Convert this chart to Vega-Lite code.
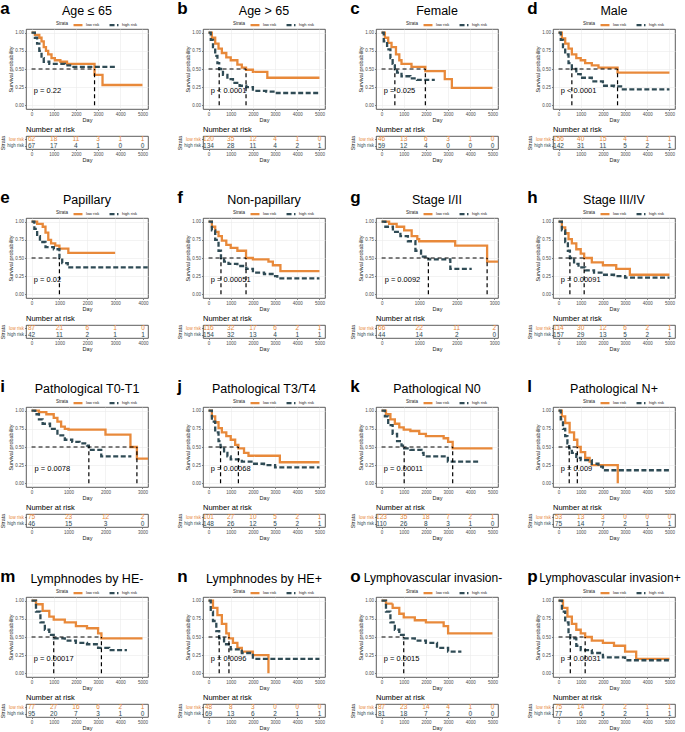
{
"$schema":"https://vega.github.io/schema/vega-lite/v6.json",
"padding":{"left":0,"top":0,"right":2,"bottom":0},
"background":"white",
"columns":4,
"spacing":{"row":26,"column":24},
"resolve":{"scale":{"color":"independent","strokeDash":"independent","x":"independent","y":"independent"},"legend":{"color":"independent","strokeDash":"independent"}},
"config":{
 "font":"Liberation Sans",
 "view":{"stroke":"#333333","strokeWidth":0.8},
 "axis":{"labelFontSize":4.5,"titleFontSize":5.5,"titleFontWeight":"normal","gridColor":"#ebebeb","gridWidth":0.6,"domain":false,"tickSize":1.5,"tickColor":"#333333","tickWidth":0.6,"labelColor":"#4d4d4d","titleColor":"#1a1a1a","labelPadding":1,"titlePadding":1},
 "legend":{"direction":"horizontal","titleOrient":"left","labelFontSize":4,"titleFontSize":4.5,"titleFontWeight":"normal","symbolType":"stroke","symbolStrokeWidth":3,"symbolSize":80,"columnPadding":4,"padding":0,"titlePadding":3,"labelOffset":2,"titleColor":"#1a1a1a","labelColor":"#1a1a1a"},
 "title":{"fontSize":12.5,"fontWeight":"normal","color":"#000000","offset":3},
 "line":{"strokeWidth":2.3}
},
"datasets":{
"pval":[
{"panel":"a","pvalue":"p = 0.22"},{"panel":"b","pvalue":"p < 0.0001"},{"panel":"c","pvalue":"p = 0.025"},{"panel":"d","pvalue":"p < 0.0001"},
{"panel":"e","pvalue":"p = 0.02"},{"panel":"f","pvalue":"p = 0.00051"},{"panel":"g","pvalue":"p = 0.0092"},{"panel":"h","pvalue":"p = 0.00091"},
{"panel":"i","pvalue":"p = 0.0078"},{"panel":"j","pvalue":"p = 0.00068"},{"panel":"k","pvalue":"p = 0.00011"},{"panel":"l","pvalue":"p = 0.009"},
{"panel":"m","pvalue":"p = 0.00017"},{"panel":"n","pvalue":"p = 0.0096"},{"panel":"o","pvalue":"p = 0.0015"},{"panel":"p","pvalue":"p = 0.00031"}
],
"med":[
{"panel":"a","day":0,"day2":2840,"surv":0.5,"surv2":0.5},{"panel":"a","day":2840,"day2":2840,"surv":0,"surv2":0.5},
{"panel":"b","day":0,"day2":1690,"surv":0.5,"surv2":0.5},{"panel":"b","day":480,"day2":480,"surv":0,"surv2":0.5},{"panel":"b","day":1690,"day2":1690,"surv":0,"surv2":0.5},
{"panel":"c","day":0,"day2":1975,"surv":0.5,"surv2":0.5},{"panel":"c","day":600,"day2":600,"surv":0,"surv2":0.5},{"panel":"c","day":1975,"day2":1975,"surv":0,"surv2":0.5},
{"panel":"d","day":0,"day2":2660,"surv":0.5,"surv2":0.5},{"panel":"d","day":600,"day2":600,"surv":0,"surv2":0.5},{"panel":"d","day":2660,"day2":2660,"surv":0,"surv2":0.5},
{"panel":"e","day":0,"day2":1000,"surv":0.5,"surv2":0.5},{"panel":"e","day":1000,"day2":1000,"surv":0,"surv2":0.5},
{"panel":"f","day":0,"day2":1690,"surv":0.5,"surv2":0.5},{"panel":"f","day":560,"day2":560,"surv":0,"surv2":0.5},{"panel":"f","day":1690,"day2":1690,"surv":0,"surv2":0.5},
{"panel":"g","day":0,"day2":2810,"surv":0.5,"surv2":0.5},{"panel":"g","day":1245,"day2":1245,"surv":0,"surv2":0.5},{"panel":"g","day":2810,"day2":2810,"surv":0,"surv2":0.5},
{"panel":"h","day":0,"day2":1155,"surv":0.5,"surv2":0.5},{"panel":"h","day":512,"day2":512,"surv":0,"surv2":0.5},{"panel":"h","day":1155,"day2":1155,"surv":0,"surv2":0.5},
{"panel":"i","day":0,"day2":2850,"surv":0.5,"surv2":0.5},{"panel":"i","day":1550,"day2":1550,"surv":0,"surv2":0.5},{"panel":"i","day":2850,"day2":2850,"surv":0,"surv2":0.5},
{"panel":"j","day":0,"day2":1345,"surv":0.5,"surv2":0.5},{"panel":"j","day":541,"day2":541,"surv":0,"surv2":0.5},{"panel":"j","day":1345,"day2":1345,"surv":0,"surv2":0.5},
{"panel":"k","day":0,"day2":3207,"surv":0.5,"surv2":0.5},{"panel":"k","day":1020,"day2":1020,"surv":0,"surv2":0.5},{"panel":"k","day":3207,"day2":3207,"surv":0,"surv2":0.5},
{"panel":"l","day":0,"day2":846,"surv":0.5,"surv2":0.5},{"panel":"l","day":481,"day2":481,"surv":0,"surv2":0.5},{"panel":"l","day":846,"day2":846,"surv":0,"surv2":0.5},
{"panel":"m","day":0,"day2":3150,"surv":0.5,"surv2":0.5},{"panel":"m","day":1000,"day2":1000,"surv":0,"surv2":0.5},{"panel":"m","day":3150,"day2":3150,"surv":0,"surv2":0.5},
{"panel":"n","day":0,"day2":920,"surv":0.5,"surv2":0.5},{"panel":"n","day":480,"day2":480,"surv":0,"surv2":0.5},{"panel":"n","day":920,"day2":920,"surv":0,"surv2":0.5},
{"panel":"o","day":0,"day2":1000,"surv":0.5,"surv2":0.5},{"panel":"o","day":1000,"day2":1000,"surv":0,"surv2":0.5},
{"panel":"p","day":0,"day2":1200,"surv":0.5,"surv2":0.5},{"panel":"p","day":530,"day2":530,"surv":0,"surv2":0.5},{"panel":"p","day":1200,"day2":1200,"surv":0,"surv2":0.5}
],
"risk":[
{"panel":"a","strata":"low risk","day":0,"n":62},{"panel":"a","strata":"low risk","day":1000,"n":18},{"panel":"a","strata":"low risk","day":2000,"n":11},{"panel":"a","strata":"low risk","day":3000,"n":3},{"panel":"a","strata":"low risk","day":4000,"n":1},{"panel":"a","strata":"low risk","day":5000,"n":1},
{"panel":"a","strata":"high risk","day":0,"n":67},{"panel":"a","strata":"high risk","day":1000,"n":17},{"panel":"a","strata":"high risk","day":2000,"n":4},{"panel":"a","strata":"high risk","day":3000,"n":1},{"panel":"a","strata":"high risk","day":4000,"n":0},{"panel":"a","strata":"high risk","day":5000,"n":0},
{"panel":"b","strata":"low risk","day":0,"n":120},{"panel":"b","strata":"low risk","day":1000,"n":35},{"panel":"b","strata":"low risk","day":2000,"n":12},{"panel":"b","strata":"low risk","day":3000,"n":4},{"panel":"b","strata":"low risk","day":4000,"n":1},{"panel":"b","strata":"low risk","day":5000,"n":0},
{"panel":"b","strata":"high risk","day":0,"n":134},{"panel":"b","strata":"high risk","day":1000,"n":28},{"panel":"b","strata":"high risk","day":2000,"n":11},{"panel":"b","strata":"high risk","day":3000,"n":4},{"panel":"b","strata":"high risk","day":4000,"n":2},{"panel":"b","strata":"high risk","day":5000,"n":1},
{"panel":"c","strata":"low risk","day":0,"n":46},{"panel":"c","strata":"low risk","day":1000,"n":13},{"panel":"c","strata":"low risk","day":2000,"n":6},{"panel":"c","strata":"low risk","day":3000,"n":3},{"panel":"c","strata":"low risk","day":4000,"n":1},{"panel":"c","strata":"low risk","day":5000,"n":0},
{"panel":"c","strata":"high risk","day":0,"n":59},{"panel":"c","strata":"high risk","day":1000,"n":12},{"panel":"c","strata":"high risk","day":2000,"n":4},{"panel":"c","strata":"high risk","day":3000,"n":0},{"panel":"c","strata":"high risk","day":4000,"n":0},{"panel":"c","strata":"high risk","day":5000,"n":0},
{"panel":"d","strata":"low risk","day":0,"n":156},{"panel":"d","strata":"low risk","day":1000,"n":40},{"panel":"d","strata":"low risk","day":2000,"n":15},{"panel":"d","strata":"low risk","day":3000,"n":4},{"panel":"d","strata":"low risk","day":4000,"n":1},{"panel":"d","strata":"low risk","day":5000,"n":1},
{"panel":"d","strata":"high risk","day":0,"n":142},{"panel":"d","strata":"high risk","day":1000,"n":31},{"panel":"d","strata":"high risk","day":2000,"n":11},{"panel":"d","strata":"high risk","day":3000,"n":5},{"panel":"d","strata":"high risk","day":4000,"n":2},{"panel":"d","strata":"high risk","day":5000,"n":1},
{"panel":"e","strata":"low risk","day":0,"n":87},{"panel":"e","strata":"low risk","day":1000,"n":21},{"panel":"e","strata":"low risk","day":2000,"n":6},{"panel":"e","strata":"low risk","day":3000,"n":1},{"panel":"e","strata":"low risk","day":4000,"n":0},
{"panel":"e","strata":"high risk","day":0,"n":42},{"panel":"e","strata":"high risk","day":1000,"n":11},{"panel":"e","strata":"high risk","day":2000,"n":2},{"panel":"e","strata":"high risk","day":3000,"n":1},{"panel":"e","strata":"high risk","day":4000,"n":1},
{"panel":"f","strata":"low risk","day":0,"n":116},{"panel":"f","strata":"low risk","day":1000,"n":32},{"panel":"f","strata":"low risk","day":2000,"n":17},{"panel":"f","strata":"low risk","day":3000,"n":6},{"panel":"f","strata":"low risk","day":4000,"n":2},{"panel":"f","strata":"low risk","day":5000,"n":1},
{"panel":"f","strata":"high risk","day":0,"n":154},{"panel":"f","strata":"high risk","day":1000,"n":32},{"panel":"f","strata":"high risk","day":2000,"n":13},{"panel":"f","strata":"high risk","day":3000,"n":4},{"panel":"f","strata":"high risk","day":4000,"n":1},{"panel":"f","strata":"high risk","day":5000,"n":1},
{"panel":"g","strata":"low risk","day":0,"n":66},{"panel":"g","strata":"low risk","day":1000,"n":22},{"panel":"g","strata":"low risk","day":2000,"n":11},{"panel":"g","strata":"low risk","day":3000,"n":2},
{"panel":"g","strata":"high risk","day":0,"n":44},{"panel":"g","strata":"high risk","day":1000,"n":14},{"panel":"g","strata":"high risk","day":2000,"n":2},{"panel":"g","strata":"high risk","day":3000,"n":0},
{"panel":"h","strata":"low risk","day":0,"n":114},{"panel":"h","strata":"low risk","day":1000,"n":30},{"panel":"h","strata":"low risk","day":2000,"n":12},{"panel":"h","strata":"low risk","day":3000,"n":6},{"panel":"h","strata":"low risk","day":4000,"n":2},{"panel":"h","strata":"low risk","day":5000,"n":1},
{"panel":"h","strata":"high risk","day":0,"n":157},{"panel":"h","strata":"high risk","day":1000,"n":29},{"panel":"h","strata":"high risk","day":2000,"n":13},{"panel":"h","strata":"high risk","day":3000,"n":5},{"panel":"h","strata":"high risk","day":4000,"n":2},{"panel":"h","strata":"high risk","day":5000,"n":1},
{"panel":"i","strata":"low risk","day":0,"n":75},{"panel":"i","strata":"low risk","day":1000,"n":23},{"panel":"i","strata":"low risk","day":2000,"n":12},{"panel":"i","strata":"low risk","day":3000,"n":2},
{"panel":"i","strata":"high risk","day":0,"n":46},{"panel":"i","strata":"high risk","day":1000,"n":15},{"panel":"i","strata":"high risk","day":2000,"n":3},{"panel":"i","strata":"high risk","day":3000,"n":0},
{"panel":"j","strata":"low risk","day":0,"n":101},{"panel":"j","strata":"low risk","day":1000,"n":27},{"panel":"j","strata":"low risk","day":2000,"n":10},{"panel":"j","strata":"low risk","day":3000,"n":5},{"panel":"j","strata":"low risk","day":4000,"n":2},{"panel":"j","strata":"low risk","day":5000,"n":1},
{"panel":"j","strata":"high risk","day":0,"n":148},{"panel":"j","strata":"high risk","day":1000,"n":26},{"panel":"j","strata":"high risk","day":2000,"n":12},{"panel":"j","strata":"high risk","day":3000,"n":5},{"panel":"j","strata":"high risk","day":4000,"n":2},{"panel":"j","strata":"high risk","day":5000,"n":1},
{"panel":"k","strata":"low risk","day":0,"n":123},{"panel":"k","strata":"low risk","day":1000,"n":35},{"panel":"k","strata":"low risk","day":2000,"n":18},{"panel":"k","strata":"low risk","day":3000,"n":7},{"panel":"k","strata":"low risk","day":4000,"n":2},{"panel":"k","strata":"low risk","day":5000,"n":1},
{"panel":"k","strata":"high risk","day":0,"n":110},{"panel":"k","strata":"high risk","day":1000,"n":26},{"panel":"k","strata":"high risk","day":2000,"n":8},{"panel":"k","strata":"high risk","day":3000,"n":3},{"panel":"k","strata":"high risk","day":4000,"n":1},{"panel":"k","strata":"high risk","day":5000,"n":0},
{"panel":"l","strata":"low risk","day":0,"n":53},{"panel":"l","strata":"low risk","day":1000,"n":13},{"panel":"l","strata":"low risk","day":2000,"n":3},{"panel":"l","strata":"low risk","day":3000,"n":0},{"panel":"l","strata":"low risk","day":4000,"n":0},{"panel":"l","strata":"low risk","day":5000,"n":0},
{"panel":"l","strata":"high risk","day":0,"n":75},{"panel":"l","strata":"high risk","day":1000,"n":14},{"panel":"l","strata":"high risk","day":2000,"n":7},{"panel":"l","strata":"high risk","day":3000,"n":2},{"panel":"l","strata":"high risk","day":4000,"n":1},{"panel":"l","strata":"high risk","day":5000,"n":1},
{"panel":"m","strata":"low risk","day":0,"n":77},{"panel":"m","strata":"low risk","day":1000,"n":27},{"panel":"m","strata":"low risk","day":2000,"n":16},{"panel":"m","strata":"low risk","day":3000,"n":6},{"panel":"m","strata":"low risk","day":4000,"n":2},{"panel":"m","strata":"low risk","day":5000,"n":1},
{"panel":"m","strata":"high risk","day":0,"n":95},{"panel":"m","strata":"high risk","day":1000,"n":20},{"panel":"m","strata":"high risk","day":2000,"n":7},{"panel":"m","strata":"high risk","day":3000,"n":3},{"panel":"m","strata":"high risk","day":4000,"n":1},{"panel":"m","strata":"high risk","day":5000,"n":0},
{"panel":"n","strata":"low risk","day":0,"n":48},{"panel":"n","strata":"low risk","day":1000,"n":8},{"panel":"n","strata":"low risk","day":2000,"n":3},{"panel":"n","strata":"low risk","day":3000,"n":0},{"panel":"n","strata":"low risk","day":4000,"n":0},{"panel":"n","strata":"low risk","day":5000,"n":0},
{"panel":"n","strata":"high risk","day":0,"n":69},{"panel":"n","strata":"high risk","day":1000,"n":13},{"panel":"n","strata":"high risk","day":2000,"n":6},{"panel":"n","strata":"high risk","day":3000,"n":2},{"panel":"n","strata":"high risk","day":4000,"n":1},{"panel":"n","strata":"high risk","day":5000,"n":1},
{"panel":"o","strata":"low risk","day":0,"n":87},{"panel":"o","strata":"low risk","day":1000,"n":23},{"panel":"o","strata":"low risk","day":2000,"n":14},{"panel":"o","strata":"low risk","day":3000,"n":4},{"panel":"o","strata":"low risk","day":4000,"n":1},{"panel":"o","strata":"low risk","day":5000,"n":0},
{"panel":"o","strata":"high risk","day":0,"n":81},{"panel":"o","strata":"high risk","day":1000,"n":18},{"panel":"o","strata":"high risk","day":2000,"n":7},{"panel":"o","strata":"high risk","day":3000,"n":2},{"panel":"o","strata":"high risk","day":4000,"n":0},{"panel":"o","strata":"high risk","day":5000,"n":0},
{"panel":"p","strata":"low risk","day":0,"n":75},{"panel":"p","strata":"low risk","day":1000,"n":14},{"panel":"p","strata":"low risk","day":2000,"n":7},{"panel":"p","strata":"low risk","day":3000,"n":2},{"panel":"p","strata":"low risk","day":4000,"n":1},{"panel":"p","strata":"low risk","day":5000,"n":1},
{"panel":"p","strata":"high risk","day":0,"n":77},{"panel":"p","strata":"high risk","day":1000,"n":6},{"panel":"p","strata":"high risk","day":2000,"n":5},{"panel":"p","strata":"high risk","day":3000,"n":2},{"panel":"p","strata":"high risk","day":4000,"n":1},{"panel":"p","strata":"high risk","day":5000,"n":1}
],
"km":[
{"panel":"a","strata":"low risk","day":0,"surv":1},{"panel":"a","strata":"low risk","day":150,"surv":0.97},{"panel":"a","strata":"low risk","day":350,"surv":0.93},{"panel":"a","strata":"low risk","day":450,"surv":0.88},{"panel":"a","strata":"low risk","day":550,"surv":0.8},{"panel":"a","strata":"low risk","day":650,"surv":0.75},{"panel":"a","strata":"low risk","day":750,"surv":0.7},{"panel":"a","strata":"low risk","day":900,"surv":0.65},{"panel":"a","strata":"low risk","day":1050,"surv":0.62},{"panel":"a","strata":"low risk","day":1300,"surv":0.6},{"panel":"a","strata":"low risk","day":1600,"surv":0.57},{"panel":"a","strata":"low risk","day":2840,"surv":0.42},{"panel":"a","strata":"low risk","day":3200,"surv":0.28},{"panel":"a","strata":"low risk","day":5000,"surv":0.28},
{"panel":"a","strata":"high risk","day":0,"surv":1},{"panel":"a","strata":"high risk","day":150,"surv":0.93},{"panel":"a","strata":"high risk","day":250,"surv":0.85},{"panel":"a","strata":"high risk","day":350,"surv":0.75},{"panel":"a","strata":"high risk","day":450,"surv":0.65},{"panel":"a","strata":"high risk","day":550,"surv":0.6},{"panel":"a","strata":"high risk","day":800,"surv":0.57},{"panel":"a","strata":"high risk","day":1500,"surv":0.55},{"panel":"a","strata":"high risk","day":1800,"surv":0.53},{"panel":"a","strata":"high risk","day":3850,"surv":0.53},
{"panel":"b","strata":"low risk","day":0,"surv":1},{"panel":"b","strata":"low risk","day":150,"surv":0.93},{"panel":"b","strata":"low risk","day":300,"surv":0.85},{"panel":"b","strata":"low risk","day":450,"surv":0.78},{"panel":"b","strata":"low risk","day":600,"surv":0.72},{"panel":"b","strata":"low risk","day":800,"surv":0.66},{"panel":"b","strata":"low risk","day":1000,"surv":0.62},{"panel":"b","strata":"low risk","day":1300,"surv":0.56},{"panel":"b","strata":"low risk","day":1500,"surv":0.52},{"panel":"b","strata":"low risk","day":1690,"surv":0.49},{"panel":"b","strata":"low risk","day":2000,"surv":0.46},{"panel":"b","strata":"low risk","day":2650,"surv":0.38},{"panel":"b","strata":"low risk","day":5000,"surv":0.38},
{"panel":"b","strata":"high risk","day":0,"surv":1},{"panel":"b","strata":"high risk","day":100,"surv":0.9},{"panel":"b","strata":"high risk","day":200,"surv":0.8},{"panel":"b","strata":"high risk","day":300,"surv":0.68},{"panel":"b","strata":"high risk","day":400,"surv":0.58},{"panel":"b","strata":"high risk","day":480,"surv":0.5},{"panel":"b","strata":"high risk","day":650,"surv":0.42},{"panel":"b","strata":"high risk","day":850,"surv":0.36},{"panel":"b","strata":"high risk","day":1100,"surv":0.31},{"panel":"b","strata":"high risk","day":1400,"surv":0.27},{"panel":"b","strata":"high risk","day":1700,"surv":0.25},{"panel":"b","strata":"high risk","day":2000,"surv":0.2},{"panel":"b","strata":"high risk","day":2600,"surv":0.19},{"panel":"b","strata":"high risk","day":3000,"surv":0.17},{"panel":"b","strata":"high risk","day":5000,"surv":0.17},
{"panel":"c","strata":"low risk","day":0,"surv":1},{"panel":"c","strata":"low risk","day":150,"surv":0.93},{"panel":"c","strata":"low risk","day":300,"surv":0.86},{"panel":"c","strata":"low risk","day":450,"surv":0.8},{"panel":"c","strata":"low risk","day":650,"surv":0.7},{"panel":"c","strata":"low risk","day":800,"surv":0.62},{"panel":"c","strata":"low risk","day":900,"surv":0.57},{"panel":"c","strata":"low risk","day":1350,"surv":0.53},{"panel":"c","strata":"low risk","day":1975,"surv":0.47},{"panel":"c","strata":"low risk","day":2850,"surv":0.36},{"panel":"c","strata":"low risk","day":3170,"surv":0.24},{"panel":"c","strata":"low risk","day":5000,"surv":0.24},
{"panel":"c","strata":"high risk","day":0,"surv":1},{"panel":"c","strata":"high risk","day":100,"surv":0.88},{"panel":"c","strata":"high risk","day":250,"surv":0.77},{"panel":"c","strata":"high risk","day":400,"surv":0.65},{"panel":"c","strata":"high risk","day":500,"surv":0.57},{"panel":"c","strata":"high risk","day":600,"surv":0.5},{"panel":"c","strata":"high risk","day":700,"surv":0.45},{"panel":"c","strata":"high risk","day":900,"surv":0.4},{"panel":"c","strata":"high risk","day":1300,"surv":0.37},{"panel":"c","strata":"high risk","day":1600,"surv":0.35},{"panel":"c","strata":"high risk","day":2400,"surv":0.35},
{"panel":"d","strata":"low risk","day":0,"surv":1},{"panel":"d","strata":"low risk","day":150,"surv":0.92},{"panel":"d","strata":"low risk","day":300,"surv":0.85},{"panel":"d","strata":"low risk","day":450,"surv":0.78},{"panel":"d","strata":"low risk","day":600,"surv":0.7},{"panel":"d","strata":"low risk","day":800,"surv":0.65},{"panel":"d","strata":"low risk","day":1000,"surv":0.62},{"panel":"d","strata":"low risk","day":1200,"surv":0.58},{"panel":"d","strata":"low risk","day":1500,"surv":0.55},{"panel":"d","strata":"low risk","day":1800,"surv":0.52},{"panel":"d","strata":"low risk","day":2660,"surv":0.45},{"panel":"d","strata":"low risk","day":5000,"surv":0.45},
{"panel":"d","strata":"high risk","day":0,"surv":1},{"panel":"d","strata":"high risk","day":100,"surv":0.9},{"panel":"d","strata":"high risk","day":200,"surv":0.8},{"panel":"d","strata":"high risk","day":300,"surv":0.7},{"panel":"d","strata":"high risk","day":450,"surv":0.58},{"panel":"d","strata":"high risk","day":600,"surv":0.5},{"panel":"d","strata":"high risk","day":800,"surv":0.43},{"panel":"d","strata":"high risk","day":1000,"surv":0.38},{"panel":"d","strata":"high risk","day":1500,"surv":0.33},{"panel":"d","strata":"high risk","day":2000,"surv":0.27},{"panel":"d","strata":"high risk","day":2500,"surv":0.26},{"panel":"d","strata":"high risk","day":2900,"surv":0.22},{"panel":"d","strata":"high risk","day":5000,"surv":0.22},
{"panel":"e","strata":"low risk","day":0,"surv":1},{"panel":"e","strata":"low risk","day":200,"surv":0.97},{"panel":"e","strata":"low risk","day":400,"surv":0.93},{"panel":"e","strata":"low risk","day":500,"surv":0.85},{"panel":"e","strata":"low risk","day":600,"surv":0.75},{"panel":"e","strata":"low risk","day":700,"surv":0.7},{"panel":"e","strata":"low risk","day":850,"surv":0.67},{"panel":"e","strata":"low risk","day":1000,"surv":0.63},{"panel":"e","strata":"low risk","day":1320,"surv":0.57},{"panel":"e","strata":"low risk","day":3000,"surv":0.57},
{"panel":"e","strata":"high risk","day":0,"surv":1},{"panel":"e","strata":"high risk","day":100,"surv":0.9},{"panel":"e","strata":"high risk","day":200,"surv":0.8},{"panel":"e","strata":"high risk","day":300,"surv":0.72},{"panel":"e","strata":"high risk","day":500,"surv":0.65},{"panel":"e","strata":"high risk","day":800,"surv":0.62},{"panel":"e","strata":"high risk","day":1000,"surv":0.5},{"panel":"e","strata":"high risk","day":1100,"surv":0.43},{"panel":"e","strata":"high risk","day":1300,"surv":0.37},{"panel":"e","strata":"high risk","day":4170,"surv":0.37},
{"panel":"f","strata":"low risk","day":0,"surv":1},{"panel":"f","strata":"low risk","day":150,"surv":0.93},{"panel":"f","strata":"low risk","day":300,"surv":0.86},{"panel":"f","strata":"low risk","day":450,"surv":0.8},{"panel":"f","strata":"low risk","day":600,"surv":0.74},{"panel":"f","strata":"low risk","day":800,"surv":0.68},{"panel":"f","strata":"low risk","day":1000,"surv":0.64},{"panel":"f","strata":"low risk","day":1300,"surv":0.6},{"panel":"f","strata":"low risk","day":1690,"surv":0.5},{"panel":"f","strata":"low risk","day":2000,"surv":0.48},{"panel":"f","strata":"low risk","day":2700,"surv":0.45},{"panel":"f","strata":"low risk","day":2900,"surv":0.4},{"panel":"f","strata":"low risk","day":3240,"surv":0.32},{"panel":"f","strata":"low risk","day":5000,"surv":0.32},
{"panel":"f","strata":"high risk","day":0,"surv":1},{"panel":"f","strata":"high risk","day":150,"surv":0.88},{"panel":"f","strata":"high risk","day":300,"surv":0.75},{"panel":"f","strata":"high risk","day":450,"surv":0.6},{"panel":"f","strata":"high risk","day":560,"surv":0.5},{"panel":"f","strata":"high risk","day":700,"surv":0.45},{"panel":"f","strata":"high risk","day":900,"surv":0.42},{"panel":"f","strata":"high risk","day":1300,"surv":0.39},{"panel":"f","strata":"high risk","day":1700,"surv":0.35},{"panel":"f","strata":"high risk","day":2000,"surv":0.3},{"panel":"f","strata":"high risk","day":2500,"surv":0.28},{"panel":"f","strata":"high risk","day":3000,"surv":0.25},{"panel":"f","strata":"high risk","day":3100,"surv":0.22},{"panel":"f","strata":"high risk","day":5000,"surv":0.22},
{"panel":"g","strata":"low risk","day":0,"surv":1},{"panel":"g","strata":"low risk","day":200,"surv":0.97},{"panel":"g","strata":"low risk","day":400,"surv":0.93},{"panel":"g","strata":"low risk","day":600,"surv":0.88},{"panel":"g","strata":"low risk","day":800,"surv":0.8},{"panel":"g","strata":"low risk","day":950,"surv":0.76},{"panel":"g","strata":"low risk","day":1000,"surv":0.73},{"panel":"g","strata":"low risk","day":1960,"surv":0.67},{"panel":"g","strata":"low risk","day":2810,"surv":0.45},{"panel":"g","strata":"low risk","day":3100,"surv":0.45},
{"panel":"g","strata":"high risk","day":0,"surv":1},{"panel":"g","strata":"high risk","day":100,"surv":0.93},{"panel":"g","strata":"high risk","day":300,"surv":0.86},{"panel":"g","strata":"high risk","day":500,"surv":0.8},{"panel":"g","strata":"high risk","day":700,"surv":0.73},{"panel":"g","strata":"high risk","day":900,"surv":0.6},{"panel":"g","strata":"high risk","day":1050,"surv":0.52},{"panel":"g","strata":"high risk","day":1245,"surv":0.48},{"panel":"g","strata":"high risk","day":1830,"surv":0.35},{"panel":"g","strata":"high risk","day":2400,"surv":0.35},
{"panel":"h","strata":"low risk","day":0,"surv":1},{"panel":"h","strata":"low risk","day":150,"surv":0.92},{"panel":"h","strata":"low risk","day":300,"surv":0.84},{"panel":"h","strata":"low risk","day":450,"surv":0.76},{"panel":"h","strata":"low risk","day":600,"surv":0.7},{"panel":"h","strata":"low risk","day":800,"surv":0.62},{"panel":"h","strata":"low risk","day":1000,"surv":0.56},{"panel":"h","strata":"low risk","day":1155,"surv":0.5},{"panel":"h","strata":"low risk","day":1500,"surv":0.44},{"panel":"h","strata":"low risk","day":2000,"surv":0.4},{"panel":"h","strata":"low risk","day":2600,"surv":0.35},{"panel":"h","strata":"low risk","day":3215,"surv":0.27},{"panel":"h","strata":"low risk","day":5000,"surv":0.27},
{"panel":"h","strata":"high risk","day":0,"surv":1},{"panel":"h","strata":"high risk","day":150,"surv":0.88},{"panel":"h","strata":"high risk","day":300,"surv":0.72},{"panel":"h","strata":"high risk","day":420,"surv":0.6},{"panel":"h","strata":"high risk","day":512,"surv":0.5},{"panel":"h","strata":"high risk","day":700,"surv":0.42},{"panel":"h","strata":"high risk","day":900,"surv":0.37},{"panel":"h","strata":"high risk","day":1200,"surv":0.33},{"panel":"h","strata":"high risk","day":1600,"surv":0.3},{"panel":"h","strata":"high risk","day":2000,"surv":0.27},{"panel":"h","strata":"high risk","day":2500,"surv":0.25},{"panel":"h","strata":"high risk","day":3000,"surv":0.23},{"panel":"h","strata":"high risk","day":5000,"surv":0.23},
{"panel":"i","strata":"low risk","day":0,"surv":1},{"panel":"i","strata":"low risk","day":200,"surv":0.98},{"panel":"i","strata":"low risk","day":400,"surv":0.95},{"panel":"i","strata":"low risk","day":600,"surv":0.9},{"panel":"i","strata":"low risk","day":700,"surv":0.85},{"panel":"i","strata":"low risk","day":800,"surv":0.78},{"panel":"i","strata":"low risk","day":900,"surv":0.75},{"panel":"i","strata":"low risk","day":1000,"surv":0.74},{"panel":"i","strata":"low risk","day":2000,"surv":0.67},{"panel":"i","strata":"low risk","day":2675,"surv":0.5},{"panel":"i","strata":"low risk","day":2850,"surv":0.34},{"panel":"i","strata":"low risk","day":3150,"surv":0.34},
{"panel":"i","strata":"high risk","day":0,"surv":1},{"panel":"i","strata":"high risk","day":100,"surv":0.95},{"panel":"i","strata":"high risk","day":200,"surv":0.88},{"panel":"i","strata":"high risk","day":300,"surv":0.82},{"panel":"i","strata":"high risk","day":500,"surv":0.75},{"panel":"i","strata":"high risk","day":700,"surv":0.66},{"panel":"i","strata":"high risk","day":900,"surv":0.6},{"panel":"i","strata":"high risk","day":1100,"surv":0.57},{"panel":"i","strata":"high risk","day":1300,"surv":0.55},{"panel":"i","strata":"high risk","day":1500,"surv":0.52},{"panel":"i","strata":"high risk","day":1550,"surv":0.46},{"panel":"i","strata":"high risk","day":1885,"surv":0.37},{"panel":"i","strata":"high risk","day":2700,"surv":0.37},
{"panel":"j","strata":"low risk","day":0,"surv":1},{"panel":"j","strata":"low risk","day":150,"surv":0.92},{"panel":"j","strata":"low risk","day":300,"surv":0.84},{"panel":"j","strata":"low risk","day":450,"surv":0.76},{"panel":"j","strata":"low risk","day":600,"surv":0.7},{"panel":"j","strata":"low risk","day":800,"surv":0.65},{"panel":"j","strata":"low risk","day":1000,"surv":0.6},{"panel":"j","strata":"low risk","day":1200,"surv":0.53},{"panel":"j","strata":"low risk","day":1345,"surv":0.48},{"panel":"j","strata":"low risk","day":1600,"surv":0.42},{"panel":"j","strata":"low risk","day":1800,"surv":0.38},{"panel":"j","strata":"low risk","day":3215,"surv":0.29},{"panel":"j","strata":"low risk","day":5000,"surv":0.29},
{"panel":"j","strata":"high risk","day":0,"surv":1},{"panel":"j","strata":"high risk","day":150,"surv":0.85},{"panel":"j","strata":"high risk","day":300,"surv":0.7},{"panel":"j","strata":"high risk","day":450,"surv":0.58},{"panel":"j","strata":"high risk","day":541,"surv":0.5},{"panel":"j","strata":"high risk","day":700,"surv":0.42},{"panel":"j","strata":"high risk","day":850,"surv":0.37},{"panel":"j","strata":"high risk","day":1000,"surv":0.33},{"panel":"j","strata":"high risk","day":1500,"surv":0.3},{"panel":"j","strata":"high risk","day":2000,"surv":0.27},{"panel":"j","strata":"high risk","day":2500,"surv":0.25},{"panel":"j","strata":"high risk","day":3000,"surv":0.22},{"panel":"j","strata":"high risk","day":5000,"surv":0.22},
{"panel":"k","strata":"low risk","day":0,"surv":1},{"panel":"k","strata":"low risk","day":200,"surv":0.95},{"panel":"k","strata":"low risk","day":400,"surv":0.88},{"panel":"k","strata":"low risk","day":600,"surv":0.82},{"panel":"k","strata":"low risk","day":800,"surv":0.77},{"panel":"k","strata":"low risk","day":1000,"surv":0.74},{"panel":"k","strata":"low risk","day":1300,"surv":0.72},{"panel":"k","strata":"low risk","day":1700,"surv":0.68},{"panel":"k","strata":"low risk","day":2000,"surv":0.65},{"panel":"k","strata":"low risk","day":2800,"surv":0.62},{"panel":"k","strata":"low risk","day":3000,"surv":0.57},{"panel":"k","strata":"low risk","day":3207,"surv":0.48},{"panel":"k","strata":"low risk","day":5000,"surv":0.48},
{"panel":"k","strata":"high risk","day":0,"surv":1},{"panel":"k","strata":"high risk","day":150,"surv":0.92},{"panel":"k","strata":"high risk","day":300,"surv":0.8},{"panel":"k","strata":"high risk","day":500,"surv":0.68},{"panel":"k","strata":"high risk","day":700,"surv":0.58},{"panel":"k","strata":"high risk","day":900,"surv":0.52},{"panel":"k","strata":"high risk","day":1020,"surv":0.48},{"panel":"k","strata":"high risk","day":1300,"surv":0.46},{"panel":"k","strata":"high risk","day":1800,"surv":0.42},{"panel":"k","strata":"high risk","day":1895,"surv":0.37},{"panel":"k","strata":"high risk","day":2990,"surv":0.3},{"panel":"k","strata":"high risk","day":4370,"surv":0.3},
{"panel":"l","strata":"low risk","day":0,"surv":1},{"panel":"l","strata":"low risk","day":150,"surv":0.92},{"panel":"l","strata":"low risk","day":300,"surv":0.83},{"panel":"l","strata":"low risk","day":500,"surv":0.7},{"panel":"l","strata":"low risk","day":700,"surv":0.6},{"panel":"l","strata":"low risk","day":846,"surv":0.5},{"panel":"l","strata":"low risk","day":1000,"surv":0.43},{"panel":"l","strata":"low risk","day":1200,"surv":0.35},{"panel":"l","strata":"low risk","day":1400,"surv":0.3},{"panel":"l","strata":"low risk","day":1500,"surv":0.25},{"panel":"l","strata":"low risk","day":2670,"surv":0},
{"panel":"l","strata":"high risk","day":0,"surv":1},{"panel":"l","strata":"high risk","day":100,"surv":0.88},{"panel":"l","strata":"high risk","day":200,"surv":0.75},{"panel":"l","strata":"high risk","day":300,"surv":0.65},{"panel":"l","strata":"high risk","day":400,"surv":0.55},{"panel":"l","strata":"high risk","day":481,"surv":0.48},{"panel":"l","strata":"high risk","day":600,"surv":0.42},{"panel":"l","strata":"high risk","day":800,"surv":0.35},{"panel":"l","strata":"high risk","day":1000,"surv":0.32},{"panel":"l","strata":"high risk","day":1500,"surv":0.27},{"panel":"l","strata":"high risk","day":1800,"surv":0.23},{"panel":"l","strata":"high risk","day":2000,"surv":0.18},{"panel":"l","strata":"high risk","day":5000,"surv":0.18},
{"panel":"m","strata":"low risk","day":0,"surv":1},{"panel":"m","strata":"low risk","day":200,"surv":0.95},{"panel":"m","strata":"low risk","day":500,"surv":0.86},{"panel":"m","strata":"low risk","day":800,"surv":0.78},{"panel":"m","strata":"low risk","day":1000,"surv":0.74},{"panel":"m","strata":"low risk","day":1500,"surv":0.7},{"panel":"m","strata":"low risk","day":2000,"surv":0.65},{"panel":"m","strata":"low risk","day":2500,"surv":0.62},{"panel":"m","strata":"low risk","day":3000,"surv":0.55},{"panel":"m","strata":"low risk","day":3150,"surv":0.48},{"panel":"m","strata":"low risk","day":5000,"surv":0.48},
{"panel":"m","strata":"high risk","day":0,"surv":1},{"panel":"m","strata":"high risk","day":200,"surv":0.85},{"panel":"m","strata":"high risk","day":400,"surv":0.7},{"panel":"m","strata":"high risk","day":600,"surv":0.6},{"panel":"m","strata":"high risk","day":800,"surv":0.53},{"panel":"m","strata":"high risk","day":1000,"surv":0.48},{"panel":"m","strata":"high risk","day":1500,"surv":0.45},{"panel":"m","strata":"high risk","day":2000,"surv":0.42},{"panel":"m","strata":"high risk","day":2500,"surv":0.4},{"panel":"m","strata":"high risk","day":3000,"surv":0.35},{"panel":"m","strata":"high risk","day":3500,"surv":0.32},{"panel":"m","strata":"high risk","day":4300,"surv":0.32},
{"panel":"n","strata":"low risk","day":0,"surv":1},{"panel":"n","strata":"low risk","day":200,"surv":0.9},{"panel":"n","strata":"low risk","day":400,"surv":0.8},{"panel":"n","strata":"low risk","day":600,"surv":0.68},{"panel":"n","strata":"low risk","day":800,"surv":0.55},{"panel":"n","strata":"low risk","day":920,"surv":0.48},{"panel":"n","strata":"low risk","day":1100,"surv":0.42},{"panel":"n","strata":"low risk","day":1300,"surv":0.35},{"panel":"n","strata":"low risk","day":1500,"surv":0.3},{"panel":"n","strata":"low risk","day":2000,"surv":0.25},{"panel":"n","strata":"low risk","day":2700,"surv":0},
{"panel":"n","strata":"high risk","day":0,"surv":1},{"panel":"n","strata":"high risk","day":100,"surv":0.85},{"panel":"n","strata":"high risk","day":200,"surv":0.72},{"panel":"n","strata":"high risk","day":350,"surv":0.58},{"panel":"n","strata":"high risk","day":480,"surv":0.48},{"panel":"n","strata":"high risk","day":700,"surv":0.4},{"panel":"n","strata":"high risk","day":1000,"surv":0.33},{"panel":"n","strata":"high risk","day":1500,"surv":0.28},{"panel":"n","strata":"high risk","day":2000,"surv":0.2},{"panel":"n","strata":"high risk","day":5000,"surv":0.2},
{"panel":"o","strata":"low risk","day":0,"surv":1},{"panel":"o","strata":"low risk","day":200,"surv":0.96},{"panel":"o","strata":"low risk","day":500,"surv":0.9},{"panel":"o","strata":"low risk","day":800,"surv":0.82},{"panel":"o","strata":"low risk","day":1000,"surv":0.77},{"panel":"o","strata":"low risk","day":1500,"surv":0.73},{"panel":"o","strata":"low risk","day":2000,"surv":0.7},{"panel":"o","strata":"low risk","day":2800,"surv":0.65},{"panel":"o","strata":"low risk","day":3000,"surv":0.55},{"panel":"o","strata":"low risk","day":5000,"surv":0.55},
{"panel":"o","strata":"high risk","day":0,"surv":1},{"panel":"o","strata":"high risk","day":200,"surv":0.85},{"panel":"o","strata":"high risk","day":400,"surv":0.7},{"panel":"o","strata":"high risk","day":600,"surv":0.6},{"panel":"o","strata":"high risk","day":800,"surv":0.53},{"panel":"o","strata":"high risk","day":1000,"surv":0.48},{"panel":"o","strata":"high risk","day":1500,"surv":0.45},{"panel":"o","strata":"high risk","day":2000,"surv":0.42},{"panel":"o","strata":"high risk","day":2500,"surv":0.35},{"panel":"o","strata":"high risk","day":3000,"surv":0.3},{"panel":"o","strata":"high risk","day":3600,"surv":0.3},
{"panel":"p","strata":"low risk","day":0,"surv":1},{"panel":"p","strata":"low risk","day":200,"surv":0.9},{"panel":"p","strata":"low risk","day":400,"surv":0.78},{"panel":"p","strata":"low risk","day":600,"surv":0.68},{"panel":"p","strata":"low risk","day":800,"surv":0.6},{"panel":"p","strata":"low risk","day":1000,"surv":0.55},{"panel":"p","strata":"low risk","day":1200,"surv":0.5},{"panel":"p","strata":"low risk","day":1500,"surv":0.45},{"panel":"p","strata":"low risk","day":2000,"surv":0.42},{"panel":"p","strata":"low risk","day":2500,"surv":0.38},{"panel":"p","strata":"low risk","day":3000,"surv":0.3},{"panel":"p","strata":"low risk","day":3500,"surv":0.2},{"panel":"p","strata":"low risk","day":5000,"surv":0.2},
{"panel":"p","strata":"high risk","day":0,"surv":1},{"panel":"p","strata":"high risk","day":150,"surv":0.85},{"panel":"p","strata":"high risk","day":300,"surv":0.7},{"panel":"p","strata":"high risk","day":450,"surv":0.55},{"panel":"p","strata":"high risk","day":530,"surv":0.48},{"panel":"p","strata":"high risk","day":800,"surv":0.38},{"panel":"p","strata":"high risk","day":1000,"surv":0.32},{"panel":"p","strata":"high risk","day":1500,"surv":0.28},{"panel":"p","strata":"high risk","day":2000,"surv":0.22},{"panel":"p","strata":"high risk","day":3000,"surv":0.18},{"panel":"p","strata":"high risk","day":5000,"surv":0.18}
]
},
"concat":[
{"title":{"text":"a","anchor":"start","frame":"bounds","fontSize":17,"fontWeight":"bold","dy":14,"offset":0},"spacing":2,"resolve":{"scale":{"color":"independent","strokeDash":"independent","x":"independent"},"legend":{"color":"independent","strokeDash":"independent"}},
 "vconcat":[
 {"title":{"text":"Age ≤ 65","offset":2},"width":122,"height":80,
  "layer":[
   {"data":{"name":"km"},"transform":[{"filter":"datum.panel=='a'"}],"mark":{"type":"line","interpolate":"step-after"},"encoding":{"x":{"field":"day","type":"quantitative","scale":{"domain":[-250,5250],"nice":false,"zero":false},"axis":{"values":[0,1000,2000,3000,4000,5000],"format":"d","title":"Day"}},"y":{"field":"surv","type":"quantitative","scale":{"domain":[-0.05,1.05],"nice":false},"axis":{"values":[0,0.25,0.5,0.75,1],"format":".2f","title":"Survival probability"}},"color":{"field":"strata","type":"nominal","title":"Strata","legend":{"orient":"none","legendX":30,"legendY":-10},"scale":{"domain":["low risk","high risk"],"range":["#E8893A","#2F4B55"]}},"strokeDash":{"field":"strata","type":"nominal","title":"Strata","legend":{"orient":"none","legendX":30,"legendY":-10},"scale":{"domain":["low risk","high risk"],"range":[[1,0],[5,2.5]]}}}},
   {"data":{"name":"med"},"transform":[{"filter":"datum.panel=='a'"}],"mark":{"type":"rule","color":"#000000","strokeDash":[4,3],"strokeWidth":1.2},"encoding":{"x":{"field":"day","type":"quantitative","scale":{"domain":[-250,5250],"nice":false,"zero":false},"axis":{"values":[0,1000,2000,3000,4000,5000],"format":"d","title":"Day"}},"x2":{"field":"day2"},"y":{"field":"surv","type":"quantitative","scale":{"domain":[-0.05,1.05],"nice":false},"axis":{"values":[0,0.25,0.5,0.75,1],"format":".2f","title":"Survival probability"}},"y2":{"field":"surv2"}}},
   {"data":{"name":"pval"},"transform":[{"filter":"datum.panel=='a'"}],"mark":{"type":"text","align":"left","fontSize":7.5,"color":"#000000"},"encoding":{"x":{"datum":100,"type":"quantitative","scale":{"domain":[-250,5250],"nice":false,"zero":false},"axis":{"values":[0,1000,2000,3000,4000,5000],"format":"d","title":"Day"}},"y":{"datum":0.2,"type":"quantitative","scale":{"domain":[-0.05,1.05],"nice":false},"axis":{"values":[0,0.25,0.5,0.75,1],"format":".2f","title":"Survival probability"}},"text":{"field":"pvalue","type":"nominal"}}}
  ]},
 {"data":{"name":"risk"},"transform":[{"filter":"datum.panel=='a'"}],"title":{"text":"Number at risk","anchor":"start","frame":"group","fontSize":7.5,"offset":2},"width":122,"height":13,"mark":{"type":"text","fontSize":6.5},
  "encoding":{"x":{"field":"day","type":"quantitative","scale":{"domain":[-250,5250],"nice":false,"zero":false},"axis":{"values":[0,1000,2000,3000,4000,5000],"format":"d","title":"Day"}},"y":{"field":"strata","type":"nominal","sort":["low risk","high risk"],"axis":{"title":"Strata","grid":false,"labelColor":{"condition":{"test":"datum.value=='low risk'","value":"#E8893A"},"value":"#2F4B55"}}},"color":{"field":"strata","type":"nominal","legend":null,"scale":{"domain":["low risk","high risk"],"range":["#E8893A","#2F4B55"]}},"text":{"field":"n","type":"quantitative"}}}
 ]},
{"title":{"text":"b","anchor":"start","frame":"bounds","fontSize":17,"fontWeight":"bold","dy":14,"offset":0},"spacing":2,"resolve":{"scale":{"color":"independent","strokeDash":"independent","x":"independent"},"legend":{"color":"independent","strokeDash":"independent"}},
 "vconcat":[
 {"title":{"text":"Age > 65","offset":2},"width":122,"height":80,
  "layer":[
   {"data":{"name":"km"},"transform":[{"filter":"datum.panel=='b'"}],"mark":{"type":"line","interpolate":"step-after"},"encoding":{"x":{"field":"day","type":"quantitative","scale":{"domain":[-250,5250],"nice":false,"zero":false},"axis":{"values":[0,1000,2000,3000,4000,5000],"format":"d","title":"Day"}},"y":{"field":"surv","type":"quantitative","scale":{"domain":[-0.05,1.05],"nice":false},"axis":{"values":[0,0.25,0.5,0.75,1],"format":".2f","title":"Survival probability"}},"color":{"field":"strata","type":"nominal","title":"Strata","legend":{"orient":"none","legendX":30,"legendY":-10},"scale":{"domain":["low risk","high risk"],"range":["#E8893A","#2F4B55"]}},"strokeDash":{"field":"strata","type":"nominal","title":"Strata","legend":{"orient":"none","legendX":30,"legendY":-10},"scale":{"domain":["low risk","high risk"],"range":[[1,0],[5,2.5]]}}}},
   {"data":{"name":"med"},"transform":[{"filter":"datum.panel=='b'"}],"mark":{"type":"rule","color":"#000000","strokeDash":[4,3],"strokeWidth":1.2},"encoding":{"x":{"field":"day","type":"quantitative","scale":{"domain":[-250,5250],"nice":false,"zero":false},"axis":{"values":[0,1000,2000,3000,4000,5000],"format":"d","title":"Day"}},"x2":{"field":"day2"},"y":{"field":"surv","type":"quantitative","scale":{"domain":[-0.05,1.05],"nice":false},"axis":{"values":[0,0.25,0.5,0.75,1],"format":".2f","title":"Survival probability"}},"y2":{"field":"surv2"}}},
   {"data":{"name":"pval"},"transform":[{"filter":"datum.panel=='b'"}],"mark":{"type":"text","align":"left","fontSize":7.5,"color":"#000000"},"encoding":{"x":{"datum":100,"type":"quantitative","scale":{"domain":[-250,5250],"nice":false,"zero":false},"axis":{"values":[0,1000,2000,3000,4000,5000],"format":"d","title":"Day"}},"y":{"datum":0.2,"type":"quantitative","scale":{"domain":[-0.05,1.05],"nice":false},"axis":{"values":[0,0.25,0.5,0.75,1],"format":".2f","title":"Survival probability"}},"text":{"field":"pvalue","type":"nominal"}}}
  ]},
 {"data":{"name":"risk"},"transform":[{"filter":"datum.panel=='b'"}],"title":{"text":"Number at risk","anchor":"start","frame":"group","fontSize":7.5,"offset":2},"width":122,"height":13,"mark":{"type":"text","fontSize":6.5},
  "encoding":{"x":{"field":"day","type":"quantitative","scale":{"domain":[-250,5250],"nice":false,"zero":false},"axis":{"values":[0,1000,2000,3000,4000,5000],"format":"d","title":"Day"}},"y":{"field":"strata","type":"nominal","sort":["low risk","high risk"],"axis":{"title":"Strata","grid":false,"labelColor":{"condition":{"test":"datum.value=='low risk'","value":"#E8893A"},"value":"#2F4B55"}}},"color":{"field":"strata","type":"nominal","legend":null,"scale":{"domain":["low risk","high risk"],"range":["#E8893A","#2F4B55"]}},"text":{"field":"n","type":"quantitative"}}}
 ]},
{"title":{"text":"c","anchor":"start","frame":"bounds","fontSize":17,"fontWeight":"bold","dy":14,"offset":0},"spacing":2,"resolve":{"scale":{"color":"independent","strokeDash":"independent","x":"independent"},"legend":{"color":"independent","strokeDash":"independent"}},
 "vconcat":[
 {"title":{"text":"Female","offset":2},"width":122,"height":80,
  "layer":[
   {"data":{"name":"km"},"transform":[{"filter":"datum.panel=='c'"}],"mark":{"type":"line","interpolate":"step-after"},"encoding":{"x":{"field":"day","type":"quantitative","scale":{"domain":[-250,5250],"nice":false,"zero":false},"axis":{"values":[0,1000,2000,3000,4000,5000],"format":"d","title":"Day"}},"y":{"field":"surv","type":"quantitative","scale":{"domain":[-0.05,1.05],"nice":false},"axis":{"values":[0,0.25,0.5,0.75,1],"format":".2f","title":"Survival probability"}},"color":{"field":"strata","type":"nominal","title":"Strata","legend":{"orient":"none","legendX":30,"legendY":-10},"scale":{"domain":["low risk","high risk"],"range":["#E8893A","#2F4B55"]}},"strokeDash":{"field":"strata","type":"nominal","title":"Strata","legend":{"orient":"none","legendX":30,"legendY":-10},"scale":{"domain":["low risk","high risk"],"range":[[1,0],[5,2.5]]}}}},
   {"data":{"name":"med"},"transform":[{"filter":"datum.panel=='c'"}],"mark":{"type":"rule","color":"#000000","strokeDash":[4,3],"strokeWidth":1.2},"encoding":{"x":{"field":"day","type":"quantitative","scale":{"domain":[-250,5250],"nice":false,"zero":false},"axis":{"values":[0,1000,2000,3000,4000,5000],"format":"d","title":"Day"}},"x2":{"field":"day2"},"y":{"field":"surv","type":"quantitative","scale":{"domain":[-0.05,1.05],"nice":false},"axis":{"values":[0,0.25,0.5,0.75,1],"format":".2f","title":"Survival probability"}},"y2":{"field":"surv2"}}},
   {"data":{"name":"pval"},"transform":[{"filter":"datum.panel=='c'"}],"mark":{"type":"text","align":"left","fontSize":7.5,"color":"#000000"},"encoding":{"x":{"datum":100,"type":"quantitative","scale":{"domain":[-250,5250],"nice":false,"zero":false},"axis":{"values":[0,1000,2000,3000,4000,5000],"format":"d","title":"Day"}},"y":{"datum":0.2,"type":"quantitative","scale":{"domain":[-0.05,1.05],"nice":false},"axis":{"values":[0,0.25,0.5,0.75,1],"format":".2f","title":"Survival probability"}},"text":{"field":"pvalue","type":"nominal"}}}
  ]},
 {"data":{"name":"risk"},"transform":[{"filter":"datum.panel=='c'"}],"title":{"text":"Number at risk","anchor":"start","frame":"group","fontSize":7.5,"offset":2},"width":122,"height":13,"mark":{"type":"text","fontSize":6.5},
  "encoding":{"x":{"field":"day","type":"quantitative","scale":{"domain":[-250,5250],"nice":false,"zero":false},"axis":{"values":[0,1000,2000,3000,4000,5000],"format":"d","title":"Day"}},"y":{"field":"strata","type":"nominal","sort":["low risk","high risk"],"axis":{"title":"Strata","grid":false,"labelColor":{"condition":{"test":"datum.value=='low risk'","value":"#E8893A"},"value":"#2F4B55"}}},"color":{"field":"strata","type":"nominal","legend":null,"scale":{"domain":["low risk","high risk"],"range":["#E8893A","#2F4B55"]}},"text":{"field":"n","type":"quantitative"}}}
 ]},
{"title":{"text":"d","anchor":"start","frame":"bounds","fontSize":17,"fontWeight":"bold","dy":14,"offset":0},"spacing":2,"resolve":{"scale":{"color":"independent","strokeDash":"independent","x":"independent"},"legend":{"color":"independent","strokeDash":"independent"}},
 "vconcat":[
 {"title":{"text":"Male","offset":2},"width":122,"height":80,
  "layer":[
   {"data":{"name":"km"},"transform":[{"filter":"datum.panel=='d'"}],"mark":{"type":"line","interpolate":"step-after"},"encoding":{"x":{"field":"day","type":"quantitative","scale":{"domain":[-250,5250],"nice":false,"zero":false},"axis":{"values":[0,1000,2000,3000,4000,5000],"format":"d","title":"Day"}},"y":{"field":"surv","type":"quantitative","scale":{"domain":[-0.05,1.05],"nice":false},"axis":{"values":[0,0.25,0.5,0.75,1],"format":".2f","title":"Survival probability"}},"color":{"field":"strata","type":"nominal","title":"Strata","legend":{"orient":"none","legendX":30,"legendY":-10},"scale":{"domain":["low risk","high risk"],"range":["#E8893A","#2F4B55"]}},"strokeDash":{"field":"strata","type":"nominal","title":"Strata","legend":{"orient":"none","legendX":30,"legendY":-10},"scale":{"domain":["low risk","high risk"],"range":[[1,0],[5,2.5]]}}}},
   {"data":{"name":"med"},"transform":[{"filter":"datum.panel=='d'"}],"mark":{"type":"rule","color":"#000000","strokeDash":[4,3],"strokeWidth":1.2},"encoding":{"x":{"field":"day","type":"quantitative","scale":{"domain":[-250,5250],"nice":false,"zero":false},"axis":{"values":[0,1000,2000,3000,4000,5000],"format":"d","title":"Day"}},"x2":{"field":"day2"},"y":{"field":"surv","type":"quantitative","scale":{"domain":[-0.05,1.05],"nice":false},"axis":{"values":[0,0.25,0.5,0.75,1],"format":".2f","title":"Survival probability"}},"y2":{"field":"surv2"}}},
   {"data":{"name":"pval"},"transform":[{"filter":"datum.panel=='d'"}],"mark":{"type":"text","align":"left","fontSize":7.5,"color":"#000000"},"encoding":{"x":{"datum":100,"type":"quantitative","scale":{"domain":[-250,5250],"nice":false,"zero":false},"axis":{"values":[0,1000,2000,3000,4000,5000],"format":"d","title":"Day"}},"y":{"datum":0.2,"type":"quantitative","scale":{"domain":[-0.05,1.05],"nice":false},"axis":{"values":[0,0.25,0.5,0.75,1],"format":".2f","title":"Survival probability"}},"text":{"field":"pvalue","type":"nominal"}}}
  ]},
 {"data":{"name":"risk"},"transform":[{"filter":"datum.panel=='d'"}],"title":{"text":"Number at risk","anchor":"start","frame":"group","fontSize":7.5,"offset":2},"width":122,"height":13,"mark":{"type":"text","fontSize":6.5},
  "encoding":{"x":{"field":"day","type":"quantitative","scale":{"domain":[-250,5250],"nice":false,"zero":false},"axis":{"values":[0,1000,2000,3000,4000,5000],"format":"d","title":"Day"}},"y":{"field":"strata","type":"nominal","sort":["low risk","high risk"],"axis":{"title":"Strata","grid":false,"labelColor":{"condition":{"test":"datum.value=='low risk'","value":"#E8893A"},"value":"#2F4B55"}}},"color":{"field":"strata","type":"nominal","legend":null,"scale":{"domain":["low risk","high risk"],"range":["#E8893A","#2F4B55"]}},"text":{"field":"n","type":"quantitative"}}}
 ]},
{"title":{"text":"e","anchor":"start","frame":"bounds","fontSize":17,"fontWeight":"bold","dy":14,"offset":0},"spacing":2,"resolve":{"scale":{"color":"independent","strokeDash":"independent","x":"independent"},"legend":{"color":"independent","strokeDash":"independent"}},
 "vconcat":[
 {"title":{"text":"Papillary","offset":2},"width":122,"height":80,
  "layer":[
   {"data":{"name":"km"},"transform":[{"filter":"datum.panel=='e'"}],"mark":{"type":"line","interpolate":"step-after"},"encoding":{"x":{"field":"day","type":"quantitative","scale":{"domain":[-200,4180],"nice":false,"zero":false},"axis":{"values":[0,1000,2000,3000,4000],"format":"d","title":"Day"}},"y":{"field":"surv","type":"quantitative","scale":{"domain":[-0.05,1.05],"nice":false},"axis":{"values":[0,0.25,0.5,0.75,1],"format":".2f","title":"Survival probability"}},"color":{"field":"strata","type":"nominal","title":"Strata","legend":{"orient":"none","legendX":30,"legendY":-10},"scale":{"domain":["low risk","high risk"],"range":["#E8893A","#2F4B55"]}},"strokeDash":{"field":"strata","type":"nominal","title":"Strata","legend":{"orient":"none","legendX":30,"legendY":-10},"scale":{"domain":["low risk","high risk"],"range":[[1,0],[5,2.5]]}}}},
   {"data":{"name":"med"},"transform":[{"filter":"datum.panel=='e'"}],"mark":{"type":"rule","color":"#000000","strokeDash":[4,3],"strokeWidth":1.2},"encoding":{"x":{"field":"day","type":"quantitative","scale":{"domain":[-200,4180],"nice":false,"zero":false},"axis":{"values":[0,1000,2000,3000,4000],"format":"d","title":"Day"}},"x2":{"field":"day2"},"y":{"field":"surv","type":"quantitative","scale":{"domain":[-0.05,1.05],"nice":false},"axis":{"values":[0,0.25,0.5,0.75,1],"format":".2f","title":"Survival probability"}},"y2":{"field":"surv2"}}},
   {"data":{"name":"pval"},"transform":[{"filter":"datum.panel=='e'"}],"mark":{"type":"text","align":"left","fontSize":7.5,"color":"#000000"},"encoding":{"x":{"datum":80,"type":"quantitative","scale":{"domain":[-200,4180],"nice":false,"zero":false},"axis":{"values":[0,1000,2000,3000,4000],"format":"d","title":"Day"}},"y":{"datum":0.2,"type":"quantitative","scale":{"domain":[-0.05,1.05],"nice":false},"axis":{"values":[0,0.25,0.5,0.75,1],"format":".2f","title":"Survival probability"}},"text":{"field":"pvalue","type":"nominal"}}}
  ]},
 {"data":{"name":"risk"},"transform":[{"filter":"datum.panel=='e'"}],"title":{"text":"Number at risk","anchor":"start","frame":"group","fontSize":7.5,"offset":2},"width":122,"height":13,"mark":{"type":"text","fontSize":6.5},
  "encoding":{"x":{"field":"day","type":"quantitative","scale":{"domain":[-200,4180],"nice":false,"zero":false},"axis":{"values":[0,1000,2000,3000,4000],"format":"d","title":"Day"}},"y":{"field":"strata","type":"nominal","sort":["low risk","high risk"],"axis":{"title":"Strata","grid":false,"labelColor":{"condition":{"test":"datum.value=='low risk'","value":"#E8893A"},"value":"#2F4B55"}}},"color":{"field":"strata","type":"nominal","legend":null,"scale":{"domain":["low risk","high risk"],"range":["#E8893A","#2F4B55"]}},"text":{"field":"n","type":"quantitative"}}}
 ]},
{"title":{"text":"f","anchor":"start","frame":"bounds","fontSize":17,"fontWeight":"bold","dy":14,"offset":0},"spacing":2,"resolve":{"scale":{"color":"independent","strokeDash":"independent","x":"independent"},"legend":{"color":"independent","strokeDash":"independent"}},
 "vconcat":[
 {"title":{"text":"Non-papillary","offset":2},"width":122,"height":80,
  "layer":[
   {"data":{"name":"km"},"transform":[{"filter":"datum.panel=='f'"}],"mark":{"type":"line","interpolate":"step-after"},"encoding":{"x":{"field":"day","type":"quantitative","scale":{"domain":[-250,5250],"nice":false,"zero":false},"axis":{"values":[0,1000,2000,3000,4000,5000],"format":"d","title":"Day"}},"y":{"field":"surv","type":"quantitative","scale":{"domain":[-0.05,1.05],"nice":false},"axis":{"values":[0,0.25,0.5,0.75,1],"format":".2f","title":"Survival probability"}},"color":{"field":"strata","type":"nominal","title":"Strata","legend":{"orient":"none","legendX":30,"legendY":-10},"scale":{"domain":["low risk","high risk"],"range":["#E8893A","#2F4B55"]}},"strokeDash":{"field":"strata","type":"nominal","title":"Strata","legend":{"orient":"none","legendX":30,"legendY":-10},"scale":{"domain":["low risk","high risk"],"range":[[1,0],[5,2.5]]}}}},
   {"data":{"name":"med"},"transform":[{"filter":"datum.panel=='f'"}],"mark":{"type":"rule","color":"#000000","strokeDash":[4,3],"strokeWidth":1.2},"encoding":{"x":{"field":"day","type":"quantitative","scale":{"domain":[-250,5250],"nice":false,"zero":false},"axis":{"values":[0,1000,2000,3000,4000,5000],"format":"d","title":"Day"}},"x2":{"field":"day2"},"y":{"field":"surv","type":"quantitative","scale":{"domain":[-0.05,1.05],"nice":false},"axis":{"values":[0,0.25,0.5,0.75,1],"format":".2f","title":"Survival probability"}},"y2":{"field":"surv2"}}},
   {"data":{"name":"pval"},"transform":[{"filter":"datum.panel=='f'"}],"mark":{"type":"text","align":"left","fontSize":7.5,"color":"#000000"},"encoding":{"x":{"datum":100,"type":"quantitative","scale":{"domain":[-250,5250],"nice":false,"zero":false},"axis":{"values":[0,1000,2000,3000,4000,5000],"format":"d","title":"Day"}},"y":{"datum":0.2,"type":"quantitative","scale":{"domain":[-0.05,1.05],"nice":false},"axis":{"values":[0,0.25,0.5,0.75,1],"format":".2f","title":"Survival probability"}},"text":{"field":"pvalue","type":"nominal"}}}
  ]},
 {"data":{"name":"risk"},"transform":[{"filter":"datum.panel=='f'"}],"title":{"text":"Number at risk","anchor":"start","frame":"group","fontSize":7.5,"offset":2},"width":122,"height":13,"mark":{"type":"text","fontSize":6.5},
  "encoding":{"x":{"field":"day","type":"quantitative","scale":{"domain":[-250,5250],"nice":false,"zero":false},"axis":{"values":[0,1000,2000,3000,4000,5000],"format":"d","title":"Day"}},"y":{"field":"strata","type":"nominal","sort":["low risk","high risk"],"axis":{"title":"Strata","grid":false,"labelColor":{"condition":{"test":"datum.value=='low risk'","value":"#E8893A"},"value":"#2F4B55"}}},"color":{"field":"strata","type":"nominal","legend":null,"scale":{"domain":["low risk","high risk"],"range":["#E8893A","#2F4B55"]}},"text":{"field":"n","type":"quantitative"}}}
 ]},
{"title":{"text":"g","anchor":"start","frame":"bounds","fontSize":17,"fontWeight":"bold","dy":14,"offset":0},"spacing":2,"resolve":{"scale":{"color":"independent","strokeDash":"independent","x":"independent"},"legend":{"color":"independent","strokeDash":"independent"}},
 "vconcat":[
 {"title":{"text":"Stage I/II","offset":2},"width":122,"height":80,
  "layer":[
   {"data":{"name":"km"},"transform":[{"filter":"datum.panel=='g'"}],"mark":{"type":"line","interpolate":"step-after"},"encoding":{"x":{"field":"day","type":"quantitative","scale":{"domain":[-150,3100],"nice":false,"zero":false},"axis":{"values":[0,1000,2000,3000],"format":"d","title":"Day"}},"y":{"field":"surv","type":"quantitative","scale":{"domain":[-0.05,1.05],"nice":false},"axis":{"values":[0,0.25,0.5,0.75,1],"format":".2f","title":"Survival probability"}},"color":{"field":"strata","type":"nominal","title":"Strata","legend":{"orient":"none","legendX":30,"legendY":-10},"scale":{"domain":["low risk","high risk"],"range":["#E8893A","#2F4B55"]}},"strokeDash":{"field":"strata","type":"nominal","title":"Strata","legend":{"orient":"none","legendX":30,"legendY":-10},"scale":{"domain":["low risk","high risk"],"range":[[1,0],[5,2.5]]}}}},
   {"data":{"name":"med"},"transform":[{"filter":"datum.panel=='g'"}],"mark":{"type":"rule","color":"#000000","strokeDash":[4,3],"strokeWidth":1.2},"encoding":{"x":{"field":"day","type":"quantitative","scale":{"domain":[-150,3100],"nice":false,"zero":false},"axis":{"values":[0,1000,2000,3000],"format":"d","title":"Day"}},"x2":{"field":"day2"},"y":{"field":"surv","type":"quantitative","scale":{"domain":[-0.05,1.05],"nice":false},"axis":{"values":[0,0.25,0.5,0.75,1],"format":".2f","title":"Survival probability"}},"y2":{"field":"surv2"}}},
   {"data":{"name":"pval"},"transform":[{"filter":"datum.panel=='g'"}],"mark":{"type":"text","align":"left","fontSize":7.5,"color":"#000000"},"encoding":{"x":{"datum":80,"type":"quantitative","scale":{"domain":[-150,3100],"nice":false,"zero":false},"axis":{"values":[0,1000,2000,3000],"format":"d","title":"Day"}},"y":{"datum":0.2,"type":"quantitative","scale":{"domain":[-0.05,1.05],"nice":false},"axis":{"values":[0,0.25,0.5,0.75,1],"format":".2f","title":"Survival probability"}},"text":{"field":"pvalue","type":"nominal"}}}
  ]},
 {"data":{"name":"risk"},"transform":[{"filter":"datum.panel=='g'"}],"title":{"text":"Number at risk","anchor":"start","frame":"group","fontSize":7.5,"offset":2},"width":122,"height":13,"mark":{"type":"text","fontSize":6.5},
  "encoding":{"x":{"field":"day","type":"quantitative","scale":{"domain":[-150,3100],"nice":false,"zero":false},"axis":{"values":[0,1000,2000,3000],"format":"d","title":"Day"}},"y":{"field":"strata","type":"nominal","sort":["low risk","high risk"],"axis":{"title":"Strata","grid":false,"labelColor":{"condition":{"test":"datum.value=='low risk'","value":"#E8893A"},"value":"#2F4B55"}}},"color":{"field":"strata","type":"nominal","legend":null,"scale":{"domain":["low risk","high risk"],"range":["#E8893A","#2F4B55"]}},"text":{"field":"n","type":"quantitative"}}}
 ]},
{"title":{"text":"h","anchor":"start","frame":"bounds","fontSize":17,"fontWeight":"bold","dy":14,"offset":0},"spacing":2,"resolve":{"scale":{"color":"independent","strokeDash":"independent","x":"independent"},"legend":{"color":"independent","strokeDash":"independent"}},
 "vconcat":[
 {"title":{"text":"Stage III/IV","offset":2},"width":122,"height":80,
  "layer":[
   {"data":{"name":"km"},"transform":[{"filter":"datum.panel=='h'"}],"mark":{"type":"line","interpolate":"step-after"},"encoding":{"x":{"field":"day","type":"quantitative","scale":{"domain":[-250,5250],"nice":false,"zero":false},"axis":{"values":[0,1000,2000,3000,4000,5000],"format":"d","title":"Day"}},"y":{"field":"surv","type":"quantitative","scale":{"domain":[-0.05,1.05],"nice":false},"axis":{"values":[0,0.25,0.5,0.75,1],"format":".2f","title":"Survival probability"}},"color":{"field":"strata","type":"nominal","title":"Strata","legend":{"orient":"none","legendX":30,"legendY":-10},"scale":{"domain":["low risk","high risk"],"range":["#E8893A","#2F4B55"]}},"strokeDash":{"field":"strata","type":"nominal","title":"Strata","legend":{"orient":"none","legendX":30,"legendY":-10},"scale":{"domain":["low risk","high risk"],"range":[[1,0],[5,2.5]]}}}},
   {"data":{"name":"med"},"transform":[{"filter":"datum.panel=='h'"}],"mark":{"type":"rule","color":"#000000","strokeDash":[4,3],"strokeWidth":1.2},"encoding":{"x":{"field":"day","type":"quantitative","scale":{"domain":[-250,5250],"nice":false,"zero":false},"axis":{"values":[0,1000,2000,3000,4000,5000],"format":"d","title":"Day"}},"x2":{"field":"day2"},"y":{"field":"surv","type":"quantitative","scale":{"domain":[-0.05,1.05],"nice":false},"axis":{"values":[0,0.25,0.5,0.75,1],"format":".2f","title":"Survival probability"}},"y2":{"field":"surv2"}}},
   {"data":{"name":"pval"},"transform":[{"filter":"datum.panel=='h'"}],"mark":{"type":"text","align":"left","fontSize":7.5,"color":"#000000"},"encoding":{"x":{"datum":100,"type":"quantitative","scale":{"domain":[-250,5250],"nice":false,"zero":false},"axis":{"values":[0,1000,2000,3000,4000,5000],"format":"d","title":"Day"}},"y":{"datum":0.2,"type":"quantitative","scale":{"domain":[-0.05,1.05],"nice":false},"axis":{"values":[0,0.25,0.5,0.75,1],"format":".2f","title":"Survival probability"}},"text":{"field":"pvalue","type":"nominal"}}}
  ]},
 {"data":{"name":"risk"},"transform":[{"filter":"datum.panel=='h'"}],"title":{"text":"Number at risk","anchor":"start","frame":"group","fontSize":7.5,"offset":2},"width":122,"height":13,"mark":{"type":"text","fontSize":6.5},
  "encoding":{"x":{"field":"day","type":"quantitative","scale":{"domain":[-250,5250],"nice":false,"zero":false},"axis":{"values":[0,1000,2000,3000,4000,5000],"format":"d","title":"Day"}},"y":{"field":"strata","type":"nominal","sort":["low risk","high risk"],"axis":{"title":"Strata","grid":false,"labelColor":{"condition":{"test":"datum.value=='low risk'","value":"#E8893A"},"value":"#2F4B55"}}},"color":{"field":"strata","type":"nominal","legend":null,"scale":{"domain":["low risk","high risk"],"range":["#E8893A","#2F4B55"]}},"text":{"field":"n","type":"quantitative"}}}
 ]},
{"title":{"text":"i","anchor":"start","frame":"bounds","fontSize":17,"fontWeight":"bold","dy":14,"offset":0},"spacing":2,"resolve":{"scale":{"color":"independent","strokeDash":"independent","x":"independent"},"legend":{"color":"independent","strokeDash":"independent"}},
 "vconcat":[
 {"title":{"text":"Pathological T0-T1","offset":2},"width":122,"height":80,
  "layer":[
   {"data":{"name":"km"},"transform":[{"filter":"datum.panel=='i'"}],"mark":{"type":"line","interpolate":"step-after"},"encoding":{"x":{"field":"day","type":"quantitative","scale":{"domain":[-150,3150],"nice":false,"zero":false},"axis":{"values":[0,1000,2000,3000],"format":"d","title":"Day"}},"y":{"field":"surv","type":"quantitative","scale":{"domain":[-0.05,1.05],"nice":false},"axis":{"values":[0,0.25,0.5,0.75,1],"format":".2f","title":"Survival probability"}},"color":{"field":"strata","type":"nominal","title":"Strata","legend":{"orient":"none","legendX":30,"legendY":-10},"scale":{"domain":["low risk","high risk"],"range":["#E8893A","#2F4B55"]}},"strokeDash":{"field":"strata","type":"nominal","title":"Strata","legend":{"orient":"none","legendX":30,"legendY":-10},"scale":{"domain":["low risk","high risk"],"range":[[1,0],[5,2.5]]}}}},
   {"data":{"name":"med"},"transform":[{"filter":"datum.panel=='i'"}],"mark":{"type":"rule","color":"#000000","strokeDash":[4,3],"strokeWidth":1.2},"encoding":{"x":{"field":"day","type":"quantitative","scale":{"domain":[-150,3150],"nice":false,"zero":false},"axis":{"values":[0,1000,2000,3000],"format":"d","title":"Day"}},"x2":{"field":"day2"},"y":{"field":"surv","type":"quantitative","scale":{"domain":[-0.05,1.05],"nice":false},"axis":{"values":[0,0.25,0.5,0.75,1],"format":".2f","title":"Survival probability"}},"y2":{"field":"surv2"}}},
   {"data":{"name":"pval"},"transform":[{"filter":"datum.panel=='i'"}],"mark":{"type":"text","align":"left","fontSize":7.5,"color":"#000000"},"encoding":{"x":{"datum":80,"type":"quantitative","scale":{"domain":[-150,3150],"nice":false,"zero":false},"axis":{"values":[0,1000,2000,3000],"format":"d","title":"Day"}},"y":{"datum":0.2,"type":"quantitative","scale":{"domain":[-0.05,1.05],"nice":false},"axis":{"values":[0,0.25,0.5,0.75,1],"format":".2f","title":"Survival probability"}},"text":{"field":"pvalue","type":"nominal"}}}
  ]},
 {"data":{"name":"risk"},"transform":[{"filter":"datum.panel=='i'"}],"title":{"text":"Number at risk","anchor":"start","frame":"group","fontSize":7.5,"offset":2},"width":122,"height":13,"mark":{"type":"text","fontSize":6.5},
  "encoding":{"x":{"field":"day","type":"quantitative","scale":{"domain":[-150,3150],"nice":false,"zero":false},"axis":{"values":[0,1000,2000,3000],"format":"d","title":"Day"}},"y":{"field":"strata","type":"nominal","sort":["low risk","high risk"],"axis":{"title":"Strata","grid":false,"labelColor":{"condition":{"test":"datum.value=='low risk'","value":"#E8893A"},"value":"#2F4B55"}}},"color":{"field":"strata","type":"nominal","legend":null,"scale":{"domain":["low risk","high risk"],"range":["#E8893A","#2F4B55"]}},"text":{"field":"n","type":"quantitative"}}}
 ]},
{"title":{"text":"j","anchor":"start","frame":"bounds","fontSize":17,"fontWeight":"bold","dy":14,"offset":0},"spacing":2,"resolve":{"scale":{"color":"independent","strokeDash":"independent","x":"independent"},"legend":{"color":"independent","strokeDash":"independent"}},
 "vconcat":[
 {"title":{"text":"Pathological T3/T4","offset":2},"width":122,"height":80,
  "layer":[
   {"data":{"name":"km"},"transform":[{"filter":"datum.panel=='j'"}],"mark":{"type":"line","interpolate":"step-after"},"encoding":{"x":{"field":"day","type":"quantitative","scale":{"domain":[-250,5250],"nice":false,"zero":false},"axis":{"values":[0,1000,2000,3000,4000,5000],"format":"d","title":"Day"}},"y":{"field":"surv","type":"quantitative","scale":{"domain":[-0.05,1.05],"nice":false},"axis":{"values":[0,0.25,0.5,0.75,1],"format":".2f","title":"Survival probability"}},"color":{"field":"strata","type":"nominal","title":"Strata","legend":{"orient":"none","legendX":30,"legendY":-10},"scale":{"domain":["low risk","high risk"],"range":["#E8893A","#2F4B55"]}},"strokeDash":{"field":"strata","type":"nominal","title":"Strata","legend":{"orient":"none","legendX":30,"legendY":-10},"scale":{"domain":["low risk","high risk"],"range":[[1,0],[5,2.5]]}}}},
   {"data":{"name":"med"},"transform":[{"filter":"datum.panel=='j'"}],"mark":{"type":"rule","color":"#000000","strokeDash":[4,3],"strokeWidth":1.2},"encoding":{"x":{"field":"day","type":"quantitative","scale":{"domain":[-250,5250],"nice":false,"zero":false},"axis":{"values":[0,1000,2000,3000,4000,5000],"format":"d","title":"Day"}},"x2":{"field":"day2"},"y":{"field":"surv","type":"quantitative","scale":{"domain":[-0.05,1.05],"nice":false},"axis":{"values":[0,0.25,0.5,0.75,1],"format":".2f","title":"Survival probability"}},"y2":{"field":"surv2"}}},
   {"data":{"name":"pval"},"transform":[{"filter":"datum.panel=='j'"}],"mark":{"type":"text","align":"left","fontSize":7.5,"color":"#000000"},"encoding":{"x":{"datum":100,"type":"quantitative","scale":{"domain":[-250,5250],"nice":false,"zero":false},"axis":{"values":[0,1000,2000,3000,4000,5000],"format":"d","title":"Day"}},"y":{"datum":0.2,"type":"quantitative","scale":{"domain":[-0.05,1.05],"nice":false},"axis":{"values":[0,0.25,0.5,0.75,1],"format":".2f","title":"Survival probability"}},"text":{"field":"pvalue","type":"nominal"}}}
  ]},
 {"data":{"name":"risk"},"transform":[{"filter":"datum.panel=='j'"}],"title":{"text":"Number at risk","anchor":"start","frame":"group","fontSize":7.5,"offset":2},"width":122,"height":13,"mark":{"type":"text","fontSize":6.5},
  "encoding":{"x":{"field":"day","type":"quantitative","scale":{"domain":[-250,5250],"nice":false,"zero":false},"axis":{"values":[0,1000,2000,3000,4000,5000],"format":"d","title":"Day"}},"y":{"field":"strata","type":"nominal","sort":["low risk","high risk"],"axis":{"title":"Strata","grid":false,"labelColor":{"condition":{"test":"datum.value=='low risk'","value":"#E8893A"},"value":"#2F4B55"}}},"color":{"field":"strata","type":"nominal","legend":null,"scale":{"domain":["low risk","high risk"],"range":["#E8893A","#2F4B55"]}},"text":{"field":"n","type":"quantitative"}}}
 ]},
{"title":{"text":"k","anchor":"start","frame":"bounds","fontSize":17,"fontWeight":"bold","dy":14,"offset":0},"spacing":2,"resolve":{"scale":{"color":"independent","strokeDash":"independent","x":"independent"},"legend":{"color":"independent","strokeDash":"independent"}},
 "vconcat":[
 {"title":{"text":"Pathological N0","offset":2},"width":122,"height":80,
  "layer":[
   {"data":{"name":"km"},"transform":[{"filter":"datum.panel=='k'"}],"mark":{"type":"line","interpolate":"step-after"},"encoding":{"x":{"field":"day","type":"quantitative","scale":{"domain":[-250,5250],"nice":false,"zero":false},"axis":{"values":[0,1000,2000,3000,4000,5000],"format":"d","title":"Day"}},"y":{"field":"surv","type":"quantitative","scale":{"domain":[-0.05,1.05],"nice":false},"axis":{"values":[0,0.25,0.5,0.75,1],"format":".2f","title":"Survival probability"}},"color":{"field":"strata","type":"nominal","title":"Strata","legend":{"orient":"none","legendX":30,"legendY":-10},"scale":{"domain":["low risk","high risk"],"range":["#E8893A","#2F4B55"]}},"strokeDash":{"field":"strata","type":"nominal","title":"Strata","legend":{"orient":"none","legendX":30,"legendY":-10},"scale":{"domain":["low risk","high risk"],"range":[[1,0],[5,2.5]]}}}},
   {"data":{"name":"med"},"transform":[{"filter":"datum.panel=='k'"}],"mark":{"type":"rule","color":"#000000","strokeDash":[4,3],"strokeWidth":1.2},"encoding":{"x":{"field":"day","type":"quantitative","scale":{"domain":[-250,5250],"nice":false,"zero":false},"axis":{"values":[0,1000,2000,3000,4000,5000],"format":"d","title":"Day"}},"x2":{"field":"day2"},"y":{"field":"surv","type":"quantitative","scale":{"domain":[-0.05,1.05],"nice":false},"axis":{"values":[0,0.25,0.5,0.75,1],"format":".2f","title":"Survival probability"}},"y2":{"field":"surv2"}}},
   {"data":{"name":"pval"},"transform":[{"filter":"datum.panel=='k'"}],"mark":{"type":"text","align":"left","fontSize":7.5,"color":"#000000"},"encoding":{"x":{"datum":100,"type":"quantitative","scale":{"domain":[-250,5250],"nice":false,"zero":false},"axis":{"values":[0,1000,2000,3000,4000,5000],"format":"d","title":"Day"}},"y":{"datum":0.2,"type":"quantitative","scale":{"domain":[-0.05,1.05],"nice":false},"axis":{"values":[0,0.25,0.5,0.75,1],"format":".2f","title":"Survival probability"}},"text":{"field":"pvalue","type":"nominal"}}}
  ]},
 {"data":{"name":"risk"},"transform":[{"filter":"datum.panel=='k'"}],"title":{"text":"Number at risk","anchor":"start","frame":"group","fontSize":7.5,"offset":2},"width":122,"height":13,"mark":{"type":"text","fontSize":6.5},
  "encoding":{"x":{"field":"day","type":"quantitative","scale":{"domain":[-250,5250],"nice":false,"zero":false},"axis":{"values":[0,1000,2000,3000,4000,5000],"format":"d","title":"Day"}},"y":{"field":"strata","type":"nominal","sort":["low risk","high risk"],"axis":{"title":"Strata","grid":false,"labelColor":{"condition":{"test":"datum.value=='low risk'","value":"#E8893A"},"value":"#2F4B55"}}},"color":{"field":"strata","type":"nominal","legend":null,"scale":{"domain":["low risk","high risk"],"range":["#E8893A","#2F4B55"]}},"text":{"field":"n","type":"quantitative"}}}
 ]},
{"title":{"text":"l","anchor":"start","frame":"bounds","fontSize":17,"fontWeight":"bold","dy":14,"offset":0},"spacing":2,"resolve":{"scale":{"color":"independent","strokeDash":"independent","x":"independent"},"legend":{"color":"independent","strokeDash":"independent"}},
 "vconcat":[
 {"title":{"text":"Pathological N+","offset":2},"width":122,"height":80,
  "layer":[
   {"data":{"name":"km"},"transform":[{"filter":"datum.panel=='l'"}],"mark":{"type":"line","interpolate":"step-after"},"encoding":{"x":{"field":"day","type":"quantitative","scale":{"domain":[-250,5250],"nice":false,"zero":false},"axis":{"values":[0,1000,2000,3000,4000,5000],"format":"d","title":"Day"}},"y":{"field":"surv","type":"quantitative","scale":{"domain":[-0.05,1.05],"nice":false},"axis":{"values":[0,0.25,0.5,0.75,1],"format":".2f","title":"Survival probability"}},"color":{"field":"strata","type":"nominal","title":"Strata","legend":{"orient":"none","legendX":30,"legendY":-10},"scale":{"domain":["low risk","high risk"],"range":["#E8893A","#2F4B55"]}},"strokeDash":{"field":"strata","type":"nominal","title":"Strata","legend":{"orient":"none","legendX":30,"legendY":-10},"scale":{"domain":["low risk","high risk"],"range":[[1,0],[5,2.5]]}}}},
   {"data":{"name":"med"},"transform":[{"filter":"datum.panel=='l'"}],"mark":{"type":"rule","color":"#000000","strokeDash":[4,3],"strokeWidth":1.2},"encoding":{"x":{"field":"day","type":"quantitative","scale":{"domain":[-250,5250],"nice":false,"zero":false},"axis":{"values":[0,1000,2000,3000,4000,5000],"format":"d","title":"Day"}},"x2":{"field":"day2"},"y":{"field":"surv","type":"quantitative","scale":{"domain":[-0.05,1.05],"nice":false},"axis":{"values":[0,0.25,0.5,0.75,1],"format":".2f","title":"Survival probability"}},"y2":{"field":"surv2"}}},
   {"data":{"name":"pval"},"transform":[{"filter":"datum.panel=='l'"}],"mark":{"type":"text","align":"left","fontSize":7.5,"color":"#000000"},"encoding":{"x":{"datum":100,"type":"quantitative","scale":{"domain":[-250,5250],"nice":false,"zero":false},"axis":{"values":[0,1000,2000,3000,4000,5000],"format":"d","title":"Day"}},"y":{"datum":0.2,"type":"quantitative","scale":{"domain":[-0.05,1.05],"nice":false},"axis":{"values":[0,0.25,0.5,0.75,1],"format":".2f","title":"Survival probability"}},"text":{"field":"pvalue","type":"nominal"}}}
  ]},
 {"data":{"name":"risk"},"transform":[{"filter":"datum.panel=='l'"}],"title":{"text":"Number at risk","anchor":"start","frame":"group","fontSize":7.5,"offset":2},"width":122,"height":13,"mark":{"type":"text","fontSize":6.5},
  "encoding":{"x":{"field":"day","type":"quantitative","scale":{"domain":[-250,5250],"nice":false,"zero":false},"axis":{"values":[0,1000,2000,3000,4000,5000],"format":"d","title":"Day"}},"y":{"field":"strata","type":"nominal","sort":["low risk","high risk"],"axis":{"title":"Strata","grid":false,"labelColor":{"condition":{"test":"datum.value=='low risk'","value":"#E8893A"},"value":"#2F4B55"}}},"color":{"field":"strata","type":"nominal","legend":null,"scale":{"domain":["low risk","high risk"],"range":["#E8893A","#2F4B55"]}},"text":{"field":"n","type":"quantitative"}}}
 ]},
{"title":{"text":"m","anchor":"start","frame":"bounds","fontSize":17,"fontWeight":"bold","dy":14,"offset":0},"spacing":2,"resolve":{"scale":{"color":"independent","strokeDash":"independent","x":"independent"},"legend":{"color":"independent","strokeDash":"independent"}},
 "vconcat":[
 {"title":{"text":"Lymphnodes by HE-","offset":2},"width":122,"height":80,
  "layer":[
   {"data":{"name":"km"},"transform":[{"filter":"datum.panel=='m'"}],"mark":{"type":"line","interpolate":"step-after"},"encoding":{"x":{"field":"day","type":"quantitative","scale":{"domain":[-250,5250],"nice":false,"zero":false},"axis":{"values":[0,1000,2000,3000,4000,5000],"format":"d","title":"Day"}},"y":{"field":"surv","type":"quantitative","scale":{"domain":[-0.05,1.05],"nice":false},"axis":{"values":[0,0.25,0.5,0.75,1],"format":".2f","title":"Survival probability"}},"color":{"field":"strata","type":"nominal","title":"Strata","legend":{"orient":"none","legendX":30,"legendY":-10},"scale":{"domain":["low risk","high risk"],"range":["#E8893A","#2F4B55"]}},"strokeDash":{"field":"strata","type":"nominal","title":"Strata","legend":{"orient":"none","legendX":30,"legendY":-10},"scale":{"domain":["low risk","high risk"],"range":[[1,0],[5,2.5]]}}}},
   {"data":{"name":"med"},"transform":[{"filter":"datum.panel=='m'"}],"mark":{"type":"rule","color":"#000000","strokeDash":[4,3],"strokeWidth":1.2},"encoding":{"x":{"field":"day","type":"quantitative","scale":{"domain":[-250,5250],"nice":false,"zero":false},"axis":{"values":[0,1000,2000,3000,4000,5000],"format":"d","title":"Day"}},"x2":{"field":"day2"},"y":{"field":"surv","type":"quantitative","scale":{"domain":[-0.05,1.05],"nice":false},"axis":{"values":[0,0.25,0.5,0.75,1],"format":".2f","title":"Survival probability"}},"y2":{"field":"surv2"}}},
   {"data":{"name":"pval"},"transform":[{"filter":"datum.panel=='m'"}],"mark":{"type":"text","align":"left","fontSize":7.5,"color":"#000000"},"encoding":{"x":{"datum":100,"type":"quantitative","scale":{"domain":[-250,5250],"nice":false,"zero":false},"axis":{"values":[0,1000,2000,3000,4000,5000],"format":"d","title":"Day"}},"y":{"datum":0.2,"type":"quantitative","scale":{"domain":[-0.05,1.05],"nice":false},"axis":{"values":[0,0.25,0.5,0.75,1],"format":".2f","title":"Survival probability"}},"text":{"field":"pvalue","type":"nominal"}}}
  ]},
 {"data":{"name":"risk"},"transform":[{"filter":"datum.panel=='m'"}],"title":{"text":"Number at risk","anchor":"start","frame":"group","fontSize":7.5,"offset":2},"width":122,"height":13,"mark":{"type":"text","fontSize":6.5},
  "encoding":{"x":{"field":"day","type":"quantitative","scale":{"domain":[-250,5250],"nice":false,"zero":false},"axis":{"values":[0,1000,2000,3000,4000,5000],"format":"d","title":"Day"}},"y":{"field":"strata","type":"nominal","sort":["low risk","high risk"],"axis":{"title":"Strata","grid":false,"labelColor":{"condition":{"test":"datum.value=='low risk'","value":"#E8893A"},"value":"#2F4B55"}}},"color":{"field":"strata","type":"nominal","legend":null,"scale":{"domain":["low risk","high risk"],"range":["#E8893A","#2F4B55"]}},"text":{"field":"n","type":"quantitative"}}}
 ]},
{"title":{"text":"n","anchor":"start","frame":"bounds","fontSize":17,"fontWeight":"bold","dy":14,"offset":0},"spacing":2,"resolve":{"scale":{"color":"independent","strokeDash":"independent","x":"independent"},"legend":{"color":"independent","strokeDash":"independent"}},
 "vconcat":[
 {"title":{"text":"Lymphnodes by HE+","offset":2},"width":122,"height":80,
  "layer":[
   {"data":{"name":"km"},"transform":[{"filter":"datum.panel=='n'"}],"mark":{"type":"line","interpolate":"step-after"},"encoding":{"x":{"field":"day","type":"quantitative","scale":{"domain":[-250,5250],"nice":false,"zero":false},"axis":{"values":[0,1000,2000,3000,4000,5000],"format":"d","title":"Day"}},"y":{"field":"surv","type":"quantitative","scale":{"domain":[-0.05,1.05],"nice":false},"axis":{"values":[0,0.25,0.5,0.75,1],"format":".2f","title":"Survival probability"}},"color":{"field":"strata","type":"nominal","title":"Strata","legend":{"orient":"none","legendX":30,"legendY":-10},"scale":{"domain":["low risk","high risk"],"range":["#E8893A","#2F4B55"]}},"strokeDash":{"field":"strata","type":"nominal","title":"Strata","legend":{"orient":"none","legendX":30,"legendY":-10},"scale":{"domain":["low risk","high risk"],"range":[[1,0],[5,2.5]]}}}},
   {"data":{"name":"med"},"transform":[{"filter":"datum.panel=='n'"}],"mark":{"type":"rule","color":"#000000","strokeDash":[4,3],"strokeWidth":1.2},"encoding":{"x":{"field":"day","type":"quantitative","scale":{"domain":[-250,5250],"nice":false,"zero":false},"axis":{"values":[0,1000,2000,3000,4000,5000],"format":"d","title":"Day"}},"x2":{"field":"day2"},"y":{"field":"surv","type":"quantitative","scale":{"domain":[-0.05,1.05],"nice":false},"axis":{"values":[0,0.25,0.5,0.75,1],"format":".2f","title":"Survival probability"}},"y2":{"field":"surv2"}}},
   {"data":{"name":"pval"},"transform":[{"filter":"datum.panel=='n'"}],"mark":{"type":"text","align":"left","fontSize":7.5,"color":"#000000"},"encoding":{"x":{"datum":100,"type":"quantitative","scale":{"domain":[-250,5250],"nice":false,"zero":false},"axis":{"values":[0,1000,2000,3000,4000,5000],"format":"d","title":"Day"}},"y":{"datum":0.2,"type":"quantitative","scale":{"domain":[-0.05,1.05],"nice":false},"axis":{"values":[0,0.25,0.5,0.75,1],"format":".2f","title":"Survival probability"}},"text":{"field":"pvalue","type":"nominal"}}}
  ]},
 {"data":{"name":"risk"},"transform":[{"filter":"datum.panel=='n'"}],"title":{"text":"Number at risk","anchor":"start","frame":"group","fontSize":7.5,"offset":2},"width":122,"height":13,"mark":{"type":"text","fontSize":6.5},
  "encoding":{"x":{"field":"day","type":"quantitative","scale":{"domain":[-250,5250],"nice":false,"zero":false},"axis":{"values":[0,1000,2000,3000,4000,5000],"format":"d","title":"Day"}},"y":{"field":"strata","type":"nominal","sort":["low risk","high risk"],"axis":{"title":"Strata","grid":false,"labelColor":{"condition":{"test":"datum.value=='low risk'","value":"#E8893A"},"value":"#2F4B55"}}},"color":{"field":"strata","type":"nominal","legend":null,"scale":{"domain":["low risk","high risk"],"range":["#E8893A","#2F4B55"]}},"text":{"field":"n","type":"quantitative"}}}
 ]},
{"title":{"text":"o","anchor":"start","frame":"bounds","fontSize":17,"fontWeight":"bold","dy":14,"offset":0},"spacing":2,"resolve":{"scale":{"color":"independent","strokeDash":"independent","x":"independent"},"legend":{"color":"independent","strokeDash":"independent"}},
 "vconcat":[
 {"title":{"text":"Lymphovascular invasion-","offset":2,"dx":-4,"fontSize":12},"width":122,"height":80,
  "layer":[
   {"data":{"name":"km"},"transform":[{"filter":"datum.panel=='o'"}],"mark":{"type":"line","interpolate":"step-after"},"encoding":{"x":{"field":"day","type":"quantitative","scale":{"domain":[-250,5250],"nice":false,"zero":false},"axis":{"values":[0,1000,2000,3000,4000,5000],"format":"d","title":"Day"}},"y":{"field":"surv","type":"quantitative","scale":{"domain":[-0.05,1.05],"nice":false},"axis":{"values":[0,0.25,0.5,0.75,1],"format":".2f","title":"Survival probability"}},"color":{"field":"strata","type":"nominal","title":"Strata","legend":{"orient":"none","legendX":30,"legendY":-10},"scale":{"domain":["low risk","high risk"],"range":["#E8893A","#2F4B55"]}},"strokeDash":{"field":"strata","type":"nominal","title":"Strata","legend":{"orient":"none","legendX":30,"legendY":-10},"scale":{"domain":["low risk","high risk"],"range":[[1,0],[5,2.5]]}}}},
   {"data":{"name":"med"},"transform":[{"filter":"datum.panel=='o'"}],"mark":{"type":"rule","color":"#000000","strokeDash":[4,3],"strokeWidth":1.2},"encoding":{"x":{"field":"day","type":"quantitative","scale":{"domain":[-250,5250],"nice":false,"zero":false},"axis":{"values":[0,1000,2000,3000,4000,5000],"format":"d","title":"Day"}},"x2":{"field":"day2"},"y":{"field":"surv","type":"quantitative","scale":{"domain":[-0.05,1.05],"nice":false},"axis":{"values":[0,0.25,0.5,0.75,1],"format":".2f","title":"Survival probability"}},"y2":{"field":"surv2"}}},
   {"data":{"name":"pval"},"transform":[{"filter":"datum.panel=='o'"}],"mark":{"type":"text","align":"left","fontSize":7.5,"color":"#000000"},"encoding":{"x":{"datum":100,"type":"quantitative","scale":{"domain":[-250,5250],"nice":false,"zero":false},"axis":{"values":[0,1000,2000,3000,4000,5000],"format":"d","title":"Day"}},"y":{"datum":0.2,"type":"quantitative","scale":{"domain":[-0.05,1.05],"nice":false},"axis":{"values":[0,0.25,0.5,0.75,1],"format":".2f","title":"Survival probability"}},"text":{"field":"pvalue","type":"nominal"}}}
  ]},
 {"data":{"name":"risk"},"transform":[{"filter":"datum.panel=='o'"}],"title":{"text":"Number at risk","anchor":"start","frame":"group","fontSize":7.5,"offset":2},"width":122,"height":13,"mark":{"type":"text","fontSize":6.5},
  "encoding":{"x":{"field":"day","type":"quantitative","scale":{"domain":[-250,5250],"nice":false,"zero":false},"axis":{"values":[0,1000,2000,3000,4000,5000],"format":"d","title":"Day"}},"y":{"field":"strata","type":"nominal","sort":["low risk","high risk"],"axis":{"title":"Strata","grid":false,"labelColor":{"condition":{"test":"datum.value=='low risk'","value":"#E8893A"},"value":"#2F4B55"}}},"color":{"field":"strata","type":"nominal","legend":null,"scale":{"domain":["low risk","high risk"],"range":["#E8893A","#2F4B55"]}},"text":{"field":"n","type":"quantitative"}}}
 ]},
{"title":{"text":"p","anchor":"start","frame":"bounds","fontSize":17,"fontWeight":"bold","dy":14,"offset":0},"spacing":2,"resolve":{"scale":{"color":"independent","strokeDash":"independent","x":"independent"},"legend":{"color":"independent","strokeDash":"independent"}},
 "vconcat":[
 {"title":{"text":"Lymphovascular invasion+","offset":2,"dx":-4,"fontSize":12},"width":122,"height":80,
  "layer":[
   {"data":{"name":"km"},"transform":[{"filter":"datum.panel=='p'"}],"mark":{"type":"line","interpolate":"step-after"},"encoding":{"x":{"field":"day","type":"quantitative","scale":{"domain":[-250,5250],"nice":false,"zero":false},"axis":{"values":[0,1000,2000,3000,4000,5000],"format":"d","title":"Day"}},"y":{"field":"surv","type":"quantitative","scale":{"domain":[-0.05,1.05],"nice":false},"axis":{"values":[0,0.25,0.5,0.75,1],"format":".2f","title":"Survival probability"}},"color":{"field":"strata","type":"nominal","title":"Strata","legend":{"orient":"none","legendX":30,"legendY":-10},"scale":{"domain":["low risk","high risk"],"range":["#E8893A","#2F4B55"]}},"strokeDash":{"field":"strata","type":"nominal","title":"Strata","legend":{"orient":"none","legendX":30,"legendY":-10},"scale":{"domain":["low risk","high risk"],"range":[[1,0],[5,2.5]]}}}},
   {"data":{"name":"med"},"transform":[{"filter":"datum.panel=='p'"}],"mark":{"type":"rule","color":"#000000","strokeDash":[4,3],"strokeWidth":1.2},"encoding":{"x":{"field":"day","type":"quantitative","scale":{"domain":[-250,5250],"nice":false,"zero":false},"axis":{"values":[0,1000,2000,3000,4000,5000],"format":"d","title":"Day"}},"x2":{"field":"day2"},"y":{"field":"surv","type":"quantitative","scale":{"domain":[-0.05,1.05],"nice":false},"axis":{"values":[0,0.25,0.5,0.75,1],"format":".2f","title":"Survival probability"}},"y2":{"field":"surv2"}}},
   {"data":{"name":"pval"},"transform":[{"filter":"datum.panel=='p'"}],"mark":{"type":"text","align":"left","fontSize":7.5,"color":"#000000"},"encoding":{"x":{"datum":100,"type":"quantitative","scale":{"domain":[-250,5250],"nice":false,"zero":false},"axis":{"values":[0,1000,2000,3000,4000,5000],"format":"d","title":"Day"}},"y":{"datum":0.2,"type":"quantitative","scale":{"domain":[-0.05,1.05],"nice":false},"axis":{"values":[0,0.25,0.5,0.75,1],"format":".2f","title":"Survival probability"}},"text":{"field":"pvalue","type":"nominal"}}}
  ]},
 {"data":{"name":"risk"},"transform":[{"filter":"datum.panel=='p'"}],"title":{"text":"Number at risk","anchor":"start","frame":"group","fontSize":7.5,"offset":2},"width":122,"height":13,"mark":{"type":"text","fontSize":6.5},
  "encoding":{"x":{"field":"day","type":"quantitative","scale":{"domain":[-250,5250],"nice":false,"zero":false},"axis":{"values":[0,1000,2000,3000,4000,5000],"format":"d","title":"Day"}},"y":{"field":"strata","type":"nominal","sort":["low risk","high risk"],"axis":{"title":"Strata","grid":false,"labelColor":{"condition":{"test":"datum.value=='low risk'","value":"#E8893A"},"value":"#2F4B55"}}},"color":{"field":"strata","type":"nominal","legend":null,"scale":{"domain":["low risk","high risk"],"range":["#E8893A","#2F4B55"]}},"text":{"field":"n","type":"quantitative"}}}
 ]}
]
}
